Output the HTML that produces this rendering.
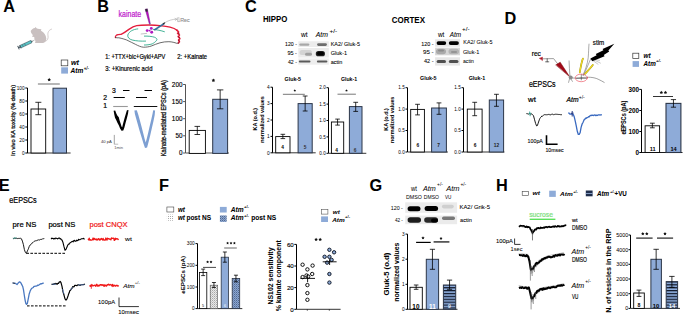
<!DOCTYPE html>
<html><head><meta charset="utf-8"><style>
html,body{margin:0;padding:0;background:#fff;}
svg{display:block;font-family:"Liberation Sans", sans-serif;}
</style></head><body>
<svg width="685" height="315" viewBox="0 0 685 315">
<rect width="685" height="315" fill="#fff"/>
<text x="3.30" y="12.20" font-size="16.3" stroke="#000" stroke-width="0.05" font-weight="bold" >A</text>
<path d="M30.7,31 C31.5,29.6 33.3,28.2 34.8,28 L35.5,27 L36.9,28.4 C38.3,28.7 39.8,28.9 41.6,29.2 C40.8,29.8 40.6,30.4 41.4,31 C44,32.4 46,35 46.3,38.5 C46.4,41.2 45,42.6 43,42.9 L35.6,42.9 C34.7,42.6 34.8,41.8 35.7,41.3 C34.6,40.1 34.1,38.6 34.3,37.1 L32.3,36.7 C31.9,36.1 32.4,35.5 33.2,35.3 C32,34.2 31,33.1 30.7,31 Z" fill="#c9c0c0"/>
<path d="M45.3,41.3 C47.4,40.6 48.5,38.6 48,35.6 C47.5,32.6 48.6,30 51.9,29" stroke="#c9c0c0" stroke-width="0.8" fill="none"/>
<g transform="translate(26.4 43.9) rotate(-25)">
<rect x="-6.6" y="-1.3" width="12" height="2.6" fill="#5cc6c8" stroke="#2c4650" stroke-width="0.5"/>
<line x1="-4" y1="-1.1" x2="-4" y2="1.1" stroke="#2c4650" stroke-width="0.4"/>
<line x1="-1.5" y1="-1.1" x2="-1.5" y2="1.1" stroke="#2c4650" stroke-width="0.4"/>
<rect x="-8.9" y="-0.6" width="2.3" height="1.2" fill="#3a4a55"/>
<rect x="-9.2" y="-1.9" width="0.9" height="3.8" fill="#3a4a55"/>
<rect x="-7" y="-1.8" width="0.7" height="3.6" fill="#3a4a55"/>
<rect x="5.4" y="-0.7" width="1.2" height="1.4" fill="#3a5a60"/>
<line x1="6.6" y1="0" x2="9" y2="0" stroke="#777" stroke-width="0.45"/>
</g>
<rect x="61.20" y="60.00" width="6.60" height="5.80" fill="#fff" stroke="#333" stroke-width="0.7" />
<text x="71.00" y="64.90" font-size="7.2" stroke="#000" stroke-width="0.05" font-weight="bold" font-style="italic" >wt</text>
<rect x="61.20" y="67.30" width="6.80" height="6.30" fill="#8eabd8" stroke="none" stroke-width="0.8" />
<text x="70.60" y="72.90" font-size="7.3" stroke="#000" stroke-width="0.05" font-weight="bold" font-style="italic" textLength="12.70" lengthAdjust="spacingAndGlyphs" >Atm</text>
<text x="83.80" y="69.60" font-size="4.6" font-weight="bold" font-style="italic" textLength="5.10" lengthAdjust="spacingAndGlyphs" >+/-</text>
<line x1="27.50" y1="88.00" x2="27.50" y2="153.00" stroke="#000" stroke-width="1.0" />
<line x1="25.30" y1="88.00" x2="27.50" y2="88.00" stroke="#000" stroke-width="1.0" />
<text x="24.50" y="89.69" font-size="4.7" text-anchor="end" >100</text>
<line x1="25.30" y1="101.00" x2="27.50" y2="101.00" stroke="#000" stroke-width="1.0" />
<text x="24.50" y="102.69" font-size="4.7" text-anchor="end" >80</text>
<line x1="25.30" y1="114.00" x2="27.50" y2="114.00" stroke="#000" stroke-width="1.0" />
<text x="24.50" y="115.69" font-size="4.7" text-anchor="end" >60</text>
<line x1="25.30" y1="127.00" x2="27.50" y2="127.00" stroke="#000" stroke-width="1.0" />
<text x="24.50" y="128.69" font-size="4.7" text-anchor="end" >40</text>
<line x1="25.30" y1="140.00" x2="27.50" y2="140.00" stroke="#000" stroke-width="1.0" />
<text x="24.50" y="141.69" font-size="4.7" text-anchor="end" >20</text>
<line x1="25.30" y1="153.00" x2="27.50" y2="153.00" stroke="#000" stroke-width="1.0" />
<text x="24.50" y="154.69" font-size="4.7" text-anchor="end" >0</text>
<line x1="27.40" y1="153.00" x2="70.60" y2="153.00" stroke="#000" stroke-width="0.8" />
<rect x="31.00" y="109.00" width="14.70" height="44.00" fill="#fff" stroke="#000" stroke-width="0.9" />
<line x1="38.35" y1="102.30" x2="38.35" y2="114.70" stroke="#000" stroke-width="0.8" />
<line x1="35.35" y1="102.30" x2="41.35" y2="102.30" stroke="#000" stroke-width="0.8" />
<line x1="35.35" y1="114.70" x2="41.35" y2="114.70" stroke="#000" stroke-width="0.8" />
<rect x="53.00" y="88.20" width="13.50" height="64.80" fill="#8eabd8" stroke="#2c3648" stroke-width="1.0" />
<line x1="37.90" y1="84.00" x2="59.80" y2="84.00" stroke="#999" stroke-width="1.4" />
<polygon points="49.20,77.85 49.80,78.88 50.96,79.13 50.17,80.01 50.29,81.20 49.20,80.72 48.11,81.20 48.23,80.01 47.44,79.13 48.60,78.88" fill="#111"/>
<text x="14.70" y="120.40" font-size="6.0" stroke="#111" stroke-width="0.28" fill="#111" text-anchor="middle" textLength="71.00" lengthAdjust="spacingAndGlyphs" transform="rotate(-90 14.70 120.40)" >In vivo KA toxicity (% death)</text>
<text x="97.30" y="12.30" font-size="16.3" stroke="#000" stroke-width="0.05" font-weight="bold" >B</text>
<text x="118.60" y="16.60" font-size="8.2" stroke="#c020cc" stroke-width="0.22" fill="#c020cc" textLength="22.50" lengthAdjust="spacingAndGlyphs" >kainate</text>
<g fill="none" stroke-linecap="round" stroke-linejoin="round">
<path d="M115.4,37.6 C115.2,36.6 115.6,35.6 116.7,35 C118,34.5 120,34.4 121.1,34.3 C124,33 126.8,31 128.9,29.4 C131.5,27.5 134,26.1 136.7,25.6 C140,25 145,25 148.9,25 C153,25 157,25.2 160,25.6 C164,26 167.5,26.5 170,27.2 C173,28 175.5,29 176.9,30.2" stroke="#e41e3c" stroke-width="1.35"/>
<path d="M176.9,30.2 L178.6,32 L177.6,33.2 L179.4,35 L178.2,36.5 L179.8,38.6 L178.6,40 L179.4,41.8 L178.4,43" stroke="#e41e3c" stroke-width="1.7"/>
<path d="M178.2,33 L179.2,33.6 M178.6,36.8 L179.6,37.4 M178.6,40.4 L179.5,41" stroke="#701020" stroke-width="0.8"/>
<path d="M115.6,37.6 C116.5,37.9 117.6,37.8 118.9,37.8 C122,38.4 124.5,39.2 126.7,40 C130,41.5 133,43.2 135.6,44.4 C138,45.7 141,47 143.3,47.2 C146,47.3 149,46.8 151.1,46.1 C154,45 157,43.6 160,42.8 C163,42 166,41.6 168.9,41.7 C172,41.8 174.5,42.5 176.7,43.3 L178.4,43" stroke="#3a3a3a" stroke-width="0.75"/>
<path d="M137.8,28.9 C133,29.3 129,31.5 127.8,35 C127.3,37.5 129.5,39.3 132.2,40 C136,41 141,41.3 145.6,41.1" stroke="#23a584" stroke-width="0.85"/>
<path d="M153.3,29.4 C157,29.8 161,30.5 164.4,31.7" stroke="#23a584" stroke-width="0.85"/>
<path d="M144.4,36.1 C148,36 152,36.4 154.4,37.2 C156.5,38 157.5,39.2 156.7,40.2 C155.5,42 153.5,43.2 152.2,43.9 C149.5,44.8 146.5,45 144.4,45" stroke="#23a584" stroke-width="0.85"/>
<path d="M141.1,34 L146.7,33.4" stroke="#888" stroke-width="0.5"/>
<path d="M164.4,23 C168,20.5 172,19.2 176.5,19.2 M175,18.4 L176.8,19.2 L175.4,20.4" stroke="#999" stroke-width="0.5"/>
<path d="M177.4,17.8 L177.6,21.6 L179.2,21.6 M178.8,17.4 L179.2,21.6" stroke="#888" stroke-width="0.45"/>
</g>
<path d="M145.2,9.2 L147.3,8.8 L150.3,23.6 L149.4,24.2 Z" fill="#c010c8" stroke="#601070" stroke-width="0.4"/><path d="M145.2,9.2 L147.3,8.8 L147.8,11.5 L145.8,11.8 Z" fill="#302838"/>
<path d="M149.3,23.6 L150.6,23.3 L150.3,24.5 Z" fill="#30a0a0"/>
<path d="M153.9,29.6 L163.6,23.2 L164.6,23.9 L154.8,30.4 Z" fill="#2b80c4" stroke="#203040" stroke-width="0.35"/>
<path d="M162.5,23.7 L164.9,22.3 L165.3,23 L163.2,24.5 Z" fill="#222"/>
<g fill="#b01cc0"><circle cx="147.2" cy="30.6" r="1.45"/><circle cx="151.3" cy="28.4" r="1.45"/><circle cx="151.7" cy="32.2" r="1.45"/><circle cx="149.6" cy="30.6" r="0.9"/></g>
<text x="180.20" y="21.60" font-size="5.8" stroke="#888" stroke-width="0.09" fill="#888" textLength="9.50" lengthAdjust="spacingAndGlyphs" >Rec</text>
<text x="105.20" y="59.00" font-size="6.8" stroke="#000" stroke-width="0.20" textLength="60.20" lengthAdjust="spacingAndGlyphs" >1: +TTX+bic+Gykl+APV</text>
<text x="177.30" y="59.00" font-size="6.8" stroke="#000" stroke-width="0.20" textLength="29.80" lengthAdjust="spacingAndGlyphs" >2: +Kainate</text>
<text x="105.20" y="71.30" font-size="6.8" stroke="#000" stroke-width="0.20" textLength="47.30" lengthAdjust="spacingAndGlyphs" >3: +Kinurenic acid</text>
<text x="114.00" y="92.50" font-size="6.8" stroke="#000" stroke-width="0.20" text-anchor="middle" >3</text>
<text x="105.20" y="99.70" font-size="6.8" stroke="#000" stroke-width="0.20" text-anchor="middle" >2</text>
<text x="105.20" y="108.20" font-size="6.8" stroke="#000" stroke-width="0.20" text-anchor="middle" >1</text>
<line x1="123.00" y1="90.50" x2="129.50" y2="90.50" stroke="#000" stroke-width="1.0" />
<line x1="144.50" y1="90.50" x2="152.00" y2="90.50" stroke="#000" stroke-width="1.0" />
<line x1="113.60" y1="97.50" x2="124.80" y2="97.50" stroke="#000" stroke-width="1.0" />
<line x1="136.00" y1="97.50" x2="147.00" y2="97.50" stroke="#000" stroke-width="1.0" />
<line x1="113.20" y1="106.50" x2="127.80" y2="106.50" stroke="#999" stroke-width="1.1" />
<line x1="133.80" y1="106.50" x2="157.30" y2="106.50" stroke="#111" stroke-width="1.0" />
<path d="M113.6,110.8 L115.2,110.5 L116.2,113.2 L117.3,115.6 L118.8,117.2 L119.6,120.4 L120.7,123.8 L121.5,126.4 L122.2,127.2 L122.9,124.2 L123.9,120.6 L124.8,117.2 L126,113.2 L126.9,110.2 L128.5,110 L128,113.8 L126.8,118.4 L125.6,122.8 L124.4,127.4 L123.3,130.5 L121.5,130.7 L120.1,128.6 L118.9,125.6 L117.3,122.6 L116.2,120 L115,117.8 L114.3,114.4 Z" stroke="none" stroke-width="0.8" fill="#000" />
<path d="M134.4,110.5 L136.8,110.3 L138.3,114.8 L139.9,120.4 L141.5,126.4 L143.1,132.8 L144.6,138.8 L145.7,142.4 L146.8,138.6 L148.3,132.2 L149.9,125.2 L151.5,118.4 L152.6,113.4 L153.2,110.3 L155.1,110.5 L154.7,115 L153.5,121 L151.9,128 L150.3,135 L148.7,141.6 L147.1,147.6 L145,147.9 L143.3,143 L141.5,137 L139.5,130.5 L137.7,124 L136,118 L134.9,114 Z" stroke="none" stroke-width="0.8" fill="#7d9fd2" />
<text x="101.00" y="142.70" font-size="3.8" fill="#333" textLength="10.90" lengthAdjust="spacingAndGlyphs" >40 pA</text>
<line x1="114.30" y1="134.90" x2="114.30" y2="144.30" stroke="#999" stroke-width="0.9" />
<line x1="114.30" y1="144.20" x2="118.20" y2="144.20" stroke="#aaa" stroke-width="0.8" />
<text x="114.20" y="148.50" font-size="3.8" fill="#555" textLength="8.80" lengthAdjust="spacingAndGlyphs" >1min</text>
<line x1="185.50" y1="84.50" x2="185.50" y2="153.00" stroke="#555" stroke-width="1.0" />
<line x1="183.10" y1="84.50" x2="185.50" y2="84.50" stroke="#555" stroke-width="1.0" />
<text x="182.50" y="86.80" font-size="6.4" stroke="#000" stroke-width="0.15" text-anchor="end" >200</text>
<line x1="183.10" y1="101.60" x2="185.50" y2="101.60" stroke="#555" stroke-width="1.0" />
<text x="182.50" y="103.90" font-size="6.4" stroke="#000" stroke-width="0.15" text-anchor="end" >150</text>
<line x1="183.10" y1="118.70" x2="185.50" y2="118.70" stroke="#555" stroke-width="1.0" />
<text x="182.50" y="121.00" font-size="6.4" stroke="#000" stroke-width="0.15" text-anchor="end" >100</text>
<line x1="183.10" y1="135.80" x2="185.50" y2="135.80" stroke="#555" stroke-width="1.0" />
<text x="182.50" y="138.10" font-size="6.4" stroke="#000" stroke-width="0.15" text-anchor="end" >50</text>
<line x1="183.10" y1="153.00" x2="185.50" y2="153.00" stroke="#555" stroke-width="1.0" />
<text x="182.50" y="155.30" font-size="6.4" stroke="#000" stroke-width="0.15" text-anchor="end" >0</text>
<line x1="185.70" y1="153.00" x2="229.00" y2="153.00" stroke="#555" stroke-width="1.0" />
<rect x="189.20" y="130.40" width="16.20" height="23.00" fill="#fff" stroke="#000" stroke-width="0.9" />
<line x1="197.30" y1="126.40" x2="197.30" y2="134.50" stroke="#000" stroke-width="0.8" />
<line x1="194.50" y1="126.40" x2="200.10" y2="126.40" stroke="#000" stroke-width="0.8" />
<line x1="194.50" y1="134.50" x2="200.10" y2="134.50" stroke="#000" stroke-width="0.8" />
<rect x="212.70" y="99.30" width="14.90" height="54.10" fill="#8eabd8" stroke="#2c3648" stroke-width="1.0" />
<line x1="220.15" y1="89.90" x2="220.15" y2="108.80" stroke="#000" stroke-width="0.8" />
<line x1="216.95" y1="89.90" x2="223.35" y2="89.90" stroke="#000" stroke-width="0.8" />
<line x1="216.95" y1="108.80" x2="223.35" y2="108.80" stroke="#000" stroke-width="0.8" />
<polygon points="213.40,78.55 214.00,79.58 215.16,79.83 214.37,80.71 214.49,81.90 213.40,81.42 212.31,81.90 212.43,80.71 211.64,79.83 212.80,79.58" fill="#111"/>
<text x="166.20" y="118.20" font-size="6.8" stroke="#111" stroke-width="0.30" fill="#111" text-anchor="middle" textLength="76.00" lengthAdjust="spacingAndGlyphs" transform="rotate(-90 166.20 118.20)" >Kainate-mediated EPSCs (pA)</text>
<text x="245.00" y="12.40" font-size="16.3" stroke="#000" stroke-width="0.05" font-weight="bold" >C</text>
<text x="262.90" y="22.40" font-size="8.3" stroke="#000" stroke-width="0.05" font-weight="bold" textLength="24.40" lengthAdjust="spacingAndGlyphs" >HIPPO</text>
<text x="391.80" y="22.80" font-size="8.7" stroke="#000" stroke-width="0.05" font-weight="bold" textLength="33.20" lengthAdjust="spacingAndGlyphs" >CORTEX</text>
<text x="304.20" y="36.66" font-size="6.6" stroke="#000" stroke-width="0.05" text-anchor="middle" >wt</text>
<text x="315.70" y="36.60" font-size="6.6" stroke="#000" stroke-width="0.05" font-style="italic" textLength="12.20" lengthAdjust="spacingAndGlyphs" >Atm</text>
<text x="329.60" y="32.60" font-size="5.6" stroke="#000" stroke-width="0.07" textLength="7.60" lengthAdjust="spacingAndGlyphs" >+/-</text>
<text x="296.90" y="46.00" font-size="5.6" stroke="#000" stroke-width="0.07" text-anchor="end" textLength="11.90" lengthAdjust="spacingAndGlyphs" >120 -</text>
<text x="296.90" y="54.90" font-size="5.6" stroke="#000" stroke-width="0.07" text-anchor="end" textLength="9.50" lengthAdjust="spacingAndGlyphs" >95 -</text>
<text x="296.90" y="64.40" font-size="5.6" stroke="#000" stroke-width="0.07" text-anchor="end" textLength="9.00" lengthAdjust="spacingAndGlyphs" >42 -</text>
<rect x="298.30" y="41.30" width="30.50" height="5.70" fill="#ececec" filter="url(#bl2)"/>
<rect x="299.30" y="43.40" width="10.00" height="2.40" rx="1.20" fill="#a8a8a8" filter="url(#bl)"/>
<rect x="317.10" y="43.30" width="9.80" height="2.60" rx="1.30" fill="#6e6e6e" filter="url(#bl)"/>
<rect x="298.30" y="48.00" width="30.50" height="9.50" fill="#ececec" filter="url(#bl2)"/>
<rect x="299.50" y="50.00" width="12.50" height="5.00" rx="2.50" fill="#d4d4d4" filter="url(#bl)"/>
<rect x="305.00" y="52.70" width="7.00" height="3.00" rx="1.50" fill="#a0a0a0" filter="url(#bl)"/>
<rect x="315.80" y="51.10" width="9.20" height="5.20" rx="2.60" fill="#222" filter="url(#bl)"/>
<rect x="317.00" y="51.80" width="7.00" height="3.40" rx="1.70" fill="#000" filter="url(#bl)"/>
<rect x="298.30" y="58.50" width="30.50" height="6.20" fill="#eeeeee" filter="url(#bl2)"/>
<rect x="298.80" y="60.50" width="11.70" height="2.00" rx="1.00" fill="#5a5a5a" filter="url(#bl)"/>
<rect x="316.90" y="60.50" width="10.50" height="2.00" rx="1.00" fill="#5a5a5a" filter="url(#bl)"/>
<text x="330.70" y="46.00" font-size="5.6" stroke="#000" stroke-width="0.07" textLength="29.30" lengthAdjust="spacingAndGlyphs" >KA2/ Gluk-5</text>
<text x="330.70" y="55.00" font-size="5.6" stroke="#000" stroke-width="0.07" textLength="16.40" lengthAdjust="spacingAndGlyphs" >Gluk-1</text>
<text x="330.70" y="64.40" font-size="5.6" stroke="#000" stroke-width="0.07" textLength="11.70" lengthAdjust="spacingAndGlyphs" >actin</text>
<text x="441.20" y="36.69" font-size="6.4" stroke="#000" stroke-width="0.05" text-anchor="middle" >wt</text>
<text x="449.80" y="36.60" font-size="6.6" stroke="#000" stroke-width="0.05" font-style="italic" textLength="11.40" lengthAdjust="spacingAndGlyphs" >Atm</text>
<text x="462.00" y="31.40" font-size="5.4" stroke="#000" stroke-width="0.04" textLength="7.60" lengthAdjust="spacingAndGlyphs" >+/-</text>
<text x="433.60" y="46.30" font-size="5.6" stroke="#000" stroke-width="0.07" text-anchor="end" textLength="12.40" lengthAdjust="spacingAndGlyphs" >120 -</text>
<text x="433.60" y="53.50" font-size="5.6" stroke="#000" stroke-width="0.07" text-anchor="end" textLength="10.60" lengthAdjust="spacingAndGlyphs" >95 -</text>
<text x="433.60" y="63.00" font-size="5.6" stroke="#000" stroke-width="0.07" text-anchor="end" textLength="9.60" lengthAdjust="spacingAndGlyphs" >42 -</text>
<rect x="435.10" y="39.30" width="24.90" height="7.40" fill="#e6e6e6" filter="url(#bl2)"/>
<rect x="436.60" y="41.20" width="9.60" height="3.80" rx="1.90" fill="#000" filter="url(#bl)"/>
<rect x="448.80" y="41.20" width="10.10" height="3.80" rx="1.90" fill="#000" filter="url(#bl)"/>
<rect x="435.10" y="47.70" width="24.90" height="7.60" fill="#d6d6d6" filter="url(#bl2)"/>
<rect x="436.00" y="48.75" width="10.00" height="5.50" rx="2.75" fill="#aaaaaa" filter="url(#bl)"/>
<rect x="448.50" y="48.75" width="10.50" height="5.50" rx="2.75" fill="#b4b4b4" filter="url(#bl)"/>
<rect x="438.00" y="49.50" width="6.00" height="2.00" rx="1.00" fill="#8c8c8c" filter="url(#bl)"/>
<rect x="451.00" y="51.00" width="6.00" height="2.00" rx="1.00" fill="#959595" filter="url(#bl)"/>
<rect x="435.10" y="57.30" width="24.90" height="8.30" fill="#e6e6e6" filter="url(#bl2)"/>
<rect x="436.60" y="59.90" width="9.40" height="3.00" rx="1.50" fill="#505050" filter="url(#bl)"/>
<rect x="448.80" y="59.90" width="9.70" height="3.00" rx="1.50" fill="#505050" filter="url(#bl)"/>
<text x="463.30" y="44.20" font-size="5.4" stroke="#000" stroke-width="0.04" textLength="29.20" lengthAdjust="spacingAndGlyphs" >KA2/ Gluk-5</text>
<text x="463.00" y="53.60" font-size="5.4" stroke="#000" stroke-width="0.04" textLength="16.50" lengthAdjust="spacingAndGlyphs" >Gluk-1</text>
<text x="463.00" y="62.80" font-size="5.4" stroke="#000" stroke-width="0.04" textLength="10.90" lengthAdjust="spacingAndGlyphs" >actin</text>
<text x="292.80" y="80.60" font-size="5.6" stroke="#000" stroke-width="0.01" font-weight="bold" text-anchor="middle" textLength="16.60" lengthAdjust="spacingAndGlyphs" >Gluk-5</text>
<line x1="272.50" y1="87.20" x2="272.50" y2="152.80" stroke="#000" stroke-width="1.0" />
<line x1="270.50" y1="87.20" x2="272.50" y2="87.20" stroke="#000" stroke-width="1.0" />
<text x="269.70" y="88.93" font-size="4.8" text-anchor="end" >4</text>
<line x1="270.50" y1="103.60" x2="272.50" y2="103.60" stroke="#000" stroke-width="1.0" />
<text x="269.70" y="105.33" font-size="4.8" text-anchor="end" >3</text>
<line x1="270.50" y1="120.00" x2="272.50" y2="120.00" stroke="#000" stroke-width="1.0" />
<text x="269.70" y="121.73" font-size="4.8" text-anchor="end" >2</text>
<line x1="270.50" y1="136.40" x2="272.50" y2="136.40" stroke="#000" stroke-width="1.0" />
<text x="269.70" y="138.13" font-size="4.8" text-anchor="end" >1</text>
<line x1="270.50" y1="152.80" x2="272.50" y2="152.80" stroke="#000" stroke-width="1.0" />
<text x="269.70" y="154.53" font-size="4.8" text-anchor="end" >0</text>
<line x1="272.20" y1="152.80" x2="315.70" y2="152.80" stroke="#000" stroke-width="0.8" />
<rect x="275.70" y="136.60" width="14.30" height="16.20" fill="#fff" stroke="#000" stroke-width="0.9" />
<line x1="282.85" y1="134.30" x2="282.85" y2="138.60" stroke="#000" stroke-width="0.8" />
<line x1="280.55" y1="134.30" x2="285.15" y2="134.30" stroke="#000" stroke-width="0.8" />
<line x1="280.55" y1="138.60" x2="285.15" y2="138.60" stroke="#000" stroke-width="0.8" />
<rect x="298.10" y="103.60" width="14.10" height="49.20" fill="#8eabd8" stroke="#2c3648" stroke-width="1.0" />
<line x1="305.15" y1="96.00" x2="305.15" y2="111.00" stroke="#000" stroke-width="0.8" />
<line x1="302.75" y1="96.00" x2="307.55" y2="96.00" stroke="#000" stroke-width="0.8" />
<line x1="302.75" y1="111.00" x2="307.55" y2="111.00" stroke="#000" stroke-width="0.8" />
<line x1="282.90" y1="94.30" x2="304.80" y2="94.30" stroke="#777" stroke-width="1.0" />
<polygon points="294.80,89.16 295.23,89.90 296.08,90.08 295.50,90.73 295.59,91.59 294.80,91.24 294.01,91.59 294.10,90.73 293.52,90.08 294.37,89.90" fill="#111"/>
<text x="282.60" y="149.32" font-size="4.8" font-weight="bold" text-anchor="middle" >4</text>
<text x="305.00" y="149.32" font-size="4.8" font-weight="bold" fill="#333" text-anchor="middle" >5</text>
<text x="256.90" y="119.20" font-size="5.4" stroke="#000" stroke-width="0.01" font-weight="bold" text-anchor="middle" textLength="22.70" lengthAdjust="spacingAndGlyphs" transform="rotate(-90 256.90 119.20)" >KA (o.d.)</text>
<text x="263.50" y="119.50" font-size="5.4" stroke="#000" stroke-width="0.01" font-weight="bold" text-anchor="middle" textLength="46.30" lengthAdjust="spacingAndGlyphs" transform="rotate(-90 263.50 119.50)" >normalized values</text>
<text x="349.00" y="81.10" font-size="5.6" stroke="#000" stroke-width="0.01" font-weight="bold" text-anchor="middle" textLength="16.20" lengthAdjust="spacingAndGlyphs" >Gluk-1</text>
<line x1="328.50" y1="87.70" x2="328.50" y2="153.30" stroke="#000" stroke-width="1.0" />
<line x1="326.50" y1="87.70" x2="328.50" y2="87.70" stroke="#000" stroke-width="1.0" />
<text x="325.70" y="89.36" font-size="4.6" text-anchor="end" >2.0</text>
<line x1="326.50" y1="104.10" x2="328.50" y2="104.10" stroke="#000" stroke-width="1.0" />
<text x="325.70" y="105.76" font-size="4.6" text-anchor="end" >1.5</text>
<line x1="326.50" y1="120.50" x2="328.50" y2="120.50" stroke="#000" stroke-width="1.0" />
<text x="325.70" y="122.16" font-size="4.6" text-anchor="end" >1.0</text>
<line x1="326.50" y1="136.90" x2="328.50" y2="136.90" stroke="#000" stroke-width="1.0" />
<text x="325.70" y="138.56" font-size="4.6" text-anchor="end" >0.5</text>
<line x1="326.50" y1="153.30" x2="328.50" y2="153.30" stroke="#000" stroke-width="1.0" />
<text x="325.70" y="154.96" font-size="4.6" text-anchor="end" >0.0</text>
<line x1="328.60" y1="153.30" x2="366.30" y2="153.30" stroke="#000" stroke-width="0.8" />
<rect x="331.40" y="122.00" width="12.30" height="31.30" fill="#fff" stroke="#000" stroke-width="0.9" />
<line x1="337.55" y1="119.10" x2="337.55" y2="125.10" stroke="#000" stroke-width="0.8" />
<line x1="335.25" y1="119.10" x2="339.85" y2="119.10" stroke="#000" stroke-width="0.8" />
<line x1="335.25" y1="125.10" x2="339.85" y2="125.10" stroke="#000" stroke-width="0.8" />
<rect x="349.40" y="106.60" width="12.60" height="46.70" fill="#8eabd8" stroke="#2c3648" stroke-width="1.0" />
<line x1="355.70" y1="102.30" x2="355.70" y2="111.40" stroke="#000" stroke-width="0.8" />
<line x1="353.30" y1="102.30" x2="358.10" y2="102.30" stroke="#000" stroke-width="0.8" />
<line x1="353.30" y1="111.40" x2="358.10" y2="111.40" stroke="#000" stroke-width="0.8" />
<line x1="337.50" y1="94.20" x2="355.90" y2="94.20" stroke="#777" stroke-width="1.0" />
<polygon points="346.50,89.16 346.93,89.90 347.78,90.08 347.20,90.73 347.29,91.59 346.50,91.24 345.71,91.59 345.80,90.73 345.22,90.08 346.07,89.90" fill="#111"/>
<text x="336.60" y="151.72" font-size="4.8" font-weight="bold" text-anchor="middle" >4</text>
<text x="355.10" y="151.72" font-size="4.8" font-weight="bold" fill="#333" text-anchor="middle" >6</text>
<text x="428.30" y="80.30" font-size="5.6" stroke="#000" stroke-width="0.01" font-weight="bold" text-anchor="middle" textLength="16.60" lengthAdjust="spacingAndGlyphs" >Gluk-5</text>
<line x1="407.50" y1="87.70" x2="407.50" y2="152.00" stroke="#000" stroke-width="1.0" />
<line x1="405.50" y1="87.70" x2="407.50" y2="87.70" stroke="#000" stroke-width="1.0" />
<text x="404.70" y="89.36" font-size="4.6" text-anchor="end" >1.5</text>
<line x1="405.50" y1="109.10" x2="407.50" y2="109.10" stroke="#000" stroke-width="1.0" />
<text x="404.70" y="110.76" font-size="4.6" text-anchor="end" >1.0</text>
<line x1="405.50" y1="130.50" x2="407.50" y2="130.50" stroke="#000" stroke-width="1.0" />
<text x="404.70" y="132.16" font-size="4.6" text-anchor="end" >0.5</text>
<line x1="405.50" y1="152.00" x2="407.50" y2="152.00" stroke="#000" stroke-width="1.0" />
<text x="404.70" y="153.66" font-size="4.6" text-anchor="end" >0.0</text>
<line x1="407.90" y1="152.00" x2="447.90" y2="152.00" stroke="#000" stroke-width="0.8" />
<rect x="410.70" y="109.40" width="13.70" height="42.60" fill="#fff" stroke="#000" stroke-width="0.9" />
<line x1="417.55" y1="104.30" x2="417.55" y2="114.90" stroke="#000" stroke-width="0.8" />
<line x1="415.15" y1="104.30" x2="419.95" y2="104.30" stroke="#000" stroke-width="0.8" />
<line x1="415.15" y1="114.90" x2="419.95" y2="114.90" stroke="#000" stroke-width="0.8" />
<rect x="431.60" y="108.00" width="14.80" height="44.00" fill="#8eabd8" stroke="#2c3648" stroke-width="1.0" />
<line x1="439.00" y1="102.90" x2="439.00" y2="114.30" stroke="#000" stroke-width="0.8" />
<line x1="436.60" y1="102.90" x2="441.40" y2="102.90" stroke="#000" stroke-width="0.8" />
<line x1="436.60" y1="114.30" x2="441.40" y2="114.30" stroke="#000" stroke-width="0.8" />
<text x="417.90" y="147.42" font-size="4.8" font-weight="bold" text-anchor="middle" >6</text>
<text x="438.70" y="147.42" font-size="4.8" font-weight="bold" fill="#222" text-anchor="middle" >7</text>
<text x="387.70" y="119.40" font-size="5.4" stroke="#000" stroke-width="0.01" font-weight="bold" text-anchor="middle" textLength="22.70" lengthAdjust="spacingAndGlyphs" transform="rotate(-90 387.70 119.40)" >KA (o.d.)</text>
<text x="394.40" y="119.80" font-size="5.4" stroke="#000" stroke-width="0.01" font-weight="bold" text-anchor="middle" textLength="46.30" lengthAdjust="spacingAndGlyphs" transform="rotate(-90 394.40 119.80)" >normalized values</text>
<text x="477.00" y="80.30" font-size="5.6" stroke="#000" stroke-width="0.01" font-weight="bold" text-anchor="middle" textLength="16.60" lengthAdjust="spacingAndGlyphs" >Gluk-1</text>
<line x1="463.50" y1="87.70" x2="463.50" y2="152.00" stroke="#000" stroke-width="1.0" />
<line x1="461.50" y1="87.70" x2="463.50" y2="87.70" stroke="#000" stroke-width="1.0" />
<text x="460.70" y="89.36" font-size="4.6" text-anchor="end" >1.5</text>
<line x1="461.50" y1="109.10" x2="463.50" y2="109.10" stroke="#000" stroke-width="1.0" />
<text x="460.70" y="110.76" font-size="4.6" text-anchor="end" >1.0</text>
<line x1="461.50" y1="130.50" x2="463.50" y2="130.50" stroke="#000" stroke-width="1.0" />
<text x="460.70" y="132.16" font-size="4.6" text-anchor="end" >0.5</text>
<line x1="461.50" y1="152.00" x2="463.50" y2="152.00" stroke="#000" stroke-width="1.0" />
<text x="460.70" y="153.66" font-size="4.6" text-anchor="end" >0.0</text>
<line x1="463.60" y1="152.00" x2="504.40" y2="152.00" stroke="#000" stroke-width="0.8" />
<rect x="467.30" y="109.10" width="14.80" height="42.90" fill="#fff" stroke="#000" stroke-width="0.9" />
<line x1="474.70" y1="102.30" x2="474.70" y2="115.70" stroke="#000" stroke-width="0.8" />
<line x1="472.30" y1="102.30" x2="477.10" y2="102.30" stroke="#000" stroke-width="0.8" />
<line x1="472.30" y1="115.70" x2="477.10" y2="115.70" stroke="#000" stroke-width="0.8" />
<rect x="489.30" y="100.00" width="14.30" height="52.00" fill="#8eabd8" stroke="#2c3648" stroke-width="1.0" />
<line x1="496.45" y1="94.30" x2="496.45" y2="106.30" stroke="#000" stroke-width="0.8" />
<line x1="494.05" y1="94.30" x2="498.85" y2="94.30" stroke="#000" stroke-width="0.8" />
<line x1="494.05" y1="106.30" x2="498.85" y2="106.30" stroke="#000" stroke-width="0.8" />
<text x="475.00" y="147.42" font-size="4.8" font-weight="bold" text-anchor="middle" >6</text>
<text x="496.40" y="147.42" font-size="4.8" font-weight="bold" fill="#222" text-anchor="middle" >12</text>
<text x="504.60" y="23.90" font-size="16.3" stroke="#000" stroke-width="0.05" font-weight="bold" >D</text>
<text x="531.70" y="56.20" font-size="6.6" stroke="#000" stroke-width="0.18" textLength="9.20" lengthAdjust="spacingAndGlyphs" >rec</text>
<text x="592.80" y="44.90" font-size="6.4" stroke="#000" stroke-width="0.15" textLength="11.40" lengthAdjust="spacingAndGlyphs" >stim</text>
<g fill="none" stroke-linecap="round">
<path d="M539.6,58.2 L542.5,57.2 L542.5,60.2 Z" fill="#b01020" stroke="#b01020" stroke-width="0.5"/>
<path d="M542.5,58.8 L553.6,58.6 L557.5,63.6" stroke="#777" stroke-width="0.7"/>
<path d="M547.2,58.8 L547.2,61.8 M545.6,61.8 L548.8,61.8" stroke="#333" stroke-width="0.7"/>
<path d="M556,64.8 L560.2,62.2 L569.5,76.5 Z" fill="#a00818" stroke="#700" stroke-width="0.5"/>
<path d="M569.9,76.1 C569.2,71 569.6,66 569.1,60.9" stroke="#555" stroke-width="0.5"/>
<path d="M572.5,78 C575,78.4 578,77.8 581.3,77.6 C585,77.3 588,77.2 590.5,77.3 C594,77.6 596.5,78.4 598.1,79.2 C600.5,80.3 602.5,81.4 604.2,82.4" stroke="#444" stroke-width="0.5"/>
<path d="M582.9,75.3 C585,71 587.5,64 588.2,57.8 C588.7,52 588.6,48 589,44.1" stroke="#555" stroke-width="0.5"/>
<path d="M583.5,75.5 C586,70 588.5,64 590.5,59.3" stroke="#555" stroke-width="0.5"/>
<path d="M569.5,79 L568.6,82.4 M571,79 L572.4,81.4" stroke="#555" stroke-width="0.5"/>
<path d="M592.8,59.3 L600.4,63.1 M592.4,60.2 L598,64.2 M593,58.6 L599.5,60.6" stroke="#777" stroke-width="0.4"/>
<path d="M579.8,72.3 C580.5,68 581.5,62 582.9,58.6" stroke="#9a8a18" stroke-width="1.7"/>
<path d="M579.8,72.3 C580.5,68 581.5,62 582.9,58.6" stroke="#f0dc20" stroke-width="1.2"/>
<path d="M585.1,73.8 C587.5,71 590.5,68 592.8,64.9" stroke="#9a8a18" stroke-width="1.7"/>
<path d="M585.1,73.8 C587.5,71 590.5,68 592.8,64.9" stroke="#f0dc20" stroke-width="1.2"/>
<ellipse cx="581.3" cy="77.9" rx="6.1" ry="3.8" stroke="#e83040" stroke-width="0.55"/>
<path d="M581.3,74.6 L581.3,79.9 M576.5,78.4 L586.4,78.4" stroke="#222" stroke-width="0.5"/>
</g>
<circle cx="570.7" cy="77.6" r="2.0" fill="#8a8a8a"/>
<path d="M590.4,58.4 L596.6,55.2 L595.8,54.0 L603.4,50.2 L602.6,48.9 L614.3,43.8 L608.4,50.4 L609.2,51.4 L603.8,55.0 L604.6,56.2 L592.2,61.2 Z" fill="#000"/>
<rect x="632.80" y="53.20" width="6.00" height="5.40" fill="#fff" stroke="#333" stroke-width="0.7" />
<text x="643.60" y="58.00" font-size="7" stroke="#000" stroke-width="0.05" font-weight="bold" font-style="italic" textLength="7.00" lengthAdjust="spacingAndGlyphs" >wt</text>
<rect x="632.60" y="61.10" width="6.40" height="5.80" fill="#8eabd8" stroke="none" stroke-width="0.8" />
<text x="643.60" y="65.70" font-size="7" stroke="#000" stroke-width="0.05" font-weight="bold" font-style="italic" textLength="12.20" lengthAdjust="spacingAndGlyphs" >Atm</text>
<text x="656.00" y="62.20" font-size="4.4" font-weight="bold" font-style="italic" textLength="5.00" lengthAdjust="spacingAndGlyphs" >+/-</text>
<text x="528.90" y="86.80" font-size="9.6" stroke="#000" stroke-width="0.22" textLength="26.70" lengthAdjust="spacingAndGlyphs" >eEPSCs</text>
<text x="528.10" y="101.80" font-size="7.4" stroke="#000" stroke-width="0.22" textLength="7.70" lengthAdjust="spacingAndGlyphs" >wt</text>
<text x="566.50" y="101.80" font-size="7.4" stroke="#000" stroke-width="0.22" font-style="italic" textLength="12.00" lengthAdjust="spacingAndGlyphs" >Atm</text>
<text x="578.80" y="99.00" font-size="4.8" textLength="6.00" lengthAdjust="spacingAndGlyphs" >+/-</text>
<path d="M526.40,113.56 L527.01,113.88 L527.62,113.76 L528.23,114.01 L528.84,114.07 L529.45,113.61 L530.06,113.60 L530.67,114.38 L531.28,113.90 L531.89,113.92 L532.50,114.65 L533.50,115.77 L534.60,119.80 L535.60,123.48 L536.60,125.93 L537.40,125.59 L538.20,123.12 L539.30,119.83 L539.90,118.42 L540.50,117.52 L541.17,116.98 L541.85,115.96 L542.53,116.11 L543.20,115.48 L543.80,115.04 L544.40,114.62 L545.00,115.19 L545.60,114.66 L546.20,114.70 L546.81,114.83 L547.42,114.68 L548.02,114.86 L548.63,114.37 L549.24,114.73 L549.85,114.40 L550.45,114.84 L551.06,114.78 L551.67,114.07 L552.28,114.10 L552.88,114.16 L553.49,114.83 L554.10,114.34 L554.71,114.51 L555.32,114.21 L555.92,114.38 L556.53,114.27 L557.14,114.23 L557.75,114.43 L558.35,114.42 L558.96,114.70 L559.57,114.49 L560.18,114.71 L560.78,114.64 L561.39,114.75 L562.00,114.30" stroke="#000" stroke-width="0.9" fill="none" stroke-linejoin="round"/>
<path d="M529.6,111.6 L530.2,116.2 M528.8,113.7 L531.2,113.2" stroke="#2a9a8a" stroke-width="0.9" fill="none" />
<path d="M568.30,113.35 L568.92,113.03 L569.55,113.80 L570.17,114.03 L570.80,114.11 L571.42,113.95 L572.05,114.22 L572.67,113.90 L573.30,114.60 L574.30,117.07 L575.30,121.31 L576.30,126.11 L577.30,131.32 L578.30,134.44 L579.20,134.43 L580.10,132.77 L581.00,127.92 L581.60,125.69 L582.20,123.81 L582.85,122.74 L583.50,121.34 L584.25,119.59 L585.00,119.10 L585.60,118.15 L586.20,118.32 L586.80,117.53 L587.40,117.58 L588.00,117.23 L588.60,116.56 L589.20,116.77 L589.80,115.91 L590.40,115.46 L591.00,115.69 L591.64,115.14 L592.29,115.24 L592.93,115.39 L593.57,115.53 L594.21,115.08 L594.86,114.93 L595.50,115.63 L596.14,115.07 L596.78,115.59 L597.42,115.48 L598.06,114.95 L598.70,114.96 L599.34,114.96 L599.98,115.01 L600.62,114.91 L601.26,114.81 L601.90,114.70" stroke="#3a6ac0" stroke-width="1.3" fill="none" stroke-linejoin="round"/>
<path d="M572.2,111 L572.2,116.5 M570.8,113.3 L573.6,113.1" stroke="#2a3a80" stroke-width="1.0" fill="none" />
<text x="527.60" y="142.50" font-size="5.8" stroke="#000" stroke-width="0.09" textLength="15.30" lengthAdjust="spacingAndGlyphs" >100pA</text>
<path d="M546.5,135.3 L546.5,144.2 L557.6,144.2" stroke="#000" stroke-width="1.6" fill="none" />
<text x="545.40" y="151.80" font-size="5.8" stroke="#000" stroke-width="0.09" textLength="18.30" lengthAdjust="spacingAndGlyphs" >10msec</text>
<line x1="641.50" y1="89.40" x2="641.50" y2="152.50" stroke="#000" stroke-width="1.0" />
<line x1="639.30" y1="89.40" x2="641.50" y2="89.40" stroke="#000" stroke-width="1.0" />
<text x="638.90" y="91.67" font-size="6.3" stroke="#000" stroke-width="0.03" font-weight="bold" text-anchor="end" >300</text>
<line x1="639.30" y1="110.50" x2="641.50" y2="110.50" stroke="#000" stroke-width="1.0" />
<text x="638.90" y="112.77" font-size="6.3" stroke="#000" stroke-width="0.03" font-weight="bold" text-anchor="end" >200</text>
<line x1="639.30" y1="131.50" x2="641.50" y2="131.50" stroke="#000" stroke-width="1.0" />
<text x="638.90" y="133.77" font-size="6.3" stroke="#000" stroke-width="0.03" font-weight="bold" text-anchor="end" >100</text>
<line x1="639.30" y1="152.50" x2="641.50" y2="152.50" stroke="#000" stroke-width="1.0" />
<text x="638.90" y="154.77" font-size="6.3" stroke="#000" stroke-width="0.03" font-weight="bold" text-anchor="end" >0</text>
<line x1="641.00" y1="152.50" x2="682.50" y2="152.50" stroke="#000" stroke-width="0.9" />
<rect x="645.10" y="125.80" width="14.50" height="26.70" fill="#fff" stroke="#000" stroke-width="0.9" />
<line x1="652.35" y1="123.20" x2="652.35" y2="127.80" stroke="#000" stroke-width="0.8" />
<line x1="649.95" y1="123.20" x2="654.75" y2="123.20" stroke="#000" stroke-width="0.8" />
<line x1="649.95" y1="127.80" x2="654.75" y2="127.80" stroke="#000" stroke-width="0.8" />
<rect x="666.00" y="103.40" width="14.90" height="49.10" fill="#8eabd8" stroke="#2c3648" stroke-width="1.1" />
<line x1="673.45" y1="99.60" x2="673.45" y2="107.20" stroke="#000" stroke-width="0.8" />
<line x1="670.85" y1="99.60" x2="676.05" y2="99.60" stroke="#000" stroke-width="0.8" />
<line x1="670.85" y1="107.20" x2="676.05" y2="107.20" stroke="#000" stroke-width="0.8" />
<line x1="653.00" y1="96.50" x2="673.00" y2="96.50" stroke="#333" stroke-width="1.0" />
<polygon points="661.35,90.81 661.93,91.80 663.05,92.05 662.29,92.90 662.40,94.05 661.35,93.59 660.30,94.05 660.41,92.90 659.65,92.05 660.77,91.80" fill="#111"/>
<polygon points="665.45,90.81 666.03,91.80 667.15,92.05 666.39,92.90 666.50,94.05 665.45,93.59 664.40,94.05 664.51,92.90 663.75,92.05 664.87,91.80" fill="#111"/>
<text x="652.60" y="150.70" font-size="5.6" stroke="#000" stroke-width="0.01" font-weight="bold" text-anchor="middle" >11</text>
<text x="673.60" y="150.70" font-size="5.6" stroke="#000" stroke-width="0.01" font-weight="bold" text-anchor="middle" >14</text>
<text x="625.60" y="117.60" font-size="6.5" stroke="#000" stroke-width="0.04" font-weight="bold" text-anchor="middle" textLength="34.00" lengthAdjust="spacingAndGlyphs" transform="rotate(-90 625.60 117.60)" >eEPSCs (pA)</text>
<text x="-1.30" y="191.10" font-size="16.3" stroke="#000" stroke-width="0.05" font-weight="bold" >E</text>
<text x="9.30" y="203.30" font-size="8.4" stroke="#000" stroke-width="0.22" textLength="27.40" lengthAdjust="spacingAndGlyphs" >eEPSCs</text>
<text x="12.60" y="227.20" font-size="7.6" stroke="#000" stroke-width="0.22" textLength="23.80" lengthAdjust="spacingAndGlyphs" >pre NS</text>
<text x="48.40" y="227.20" font-size="7.6" stroke="#000" stroke-width="0.22" textLength="27.00" lengthAdjust="spacingAndGlyphs" >post NS</text>
<text x="89.50" y="227.20" font-size="7.6" stroke="#f01818" stroke-width="0.22" fill="#f01818" textLength="38.00" lengthAdjust="spacingAndGlyphs" >post CNQX</text>
<text x="125.00" y="241.40" font-size="5.6" stroke="#000" stroke-width="0.07" textLength="6.90" lengthAdjust="spacingAndGlyphs" >wt</text>
<text x="123.30" y="287.60" font-size="5.6" stroke="#000" stroke-width="0.07" font-style="italic" textLength="11.40" lengthAdjust="spacingAndGlyphs" >Atm</text>
<text x="134.80" y="284.00" font-size="4.2" textLength="5.20" lengthAdjust="spacingAndGlyphs" >+/-</text>
<path d="M12.90,238.31 L13.51,238.63 L14.11,238.26 L14.72,238.22 L15.33,238.51 L15.94,238.11 L16.54,238.19 L17.15,238.83 L17.76,238.45 L18.36,238.50 L18.97,238.05 L19.58,238.44 L20.19,238.61 L20.79,238.14 L21.40,238.70 L22.40,241.12 L23.40,244.60 L24.40,249.61 L25.40,252.47 L26.40,253.46 L27.40,250.87 L28.00,249.69 L28.60,248.21 L29.30,246.32 L30.00,245.10 L30.75,244.66 L31.50,243.92 L32.10,242.84 L32.70,242.58 L33.30,242.26 L33.90,241.58 L34.50,241.18 L35.10,240.93 L35.70,240.78 L36.30,240.79 L36.90,240.32 L37.50,240.19 L38.10,240.41 L38.70,239.59 L39.30,239.94 L39.90,239.95 L40.50,239.43 L41.13,239.18 L41.77,239.54 L42.40,238.86 L43.03,238.65 L43.67,238.71 L44.30,238.60" stroke="#000" stroke-width="0.9" fill="none" stroke-linejoin="round"/>
<path d="M13.2,238.3 L16.5,237.8" stroke="#2a9a8a" stroke-width="0.8" fill="none" />
<path d="M51.10,239.08 L51.75,238.18 L52.40,238.42 L53.05,238.37 L53.70,239.00 L54.35,238.38 L55.00,238.90 L55.67,237.94 L56.33,238.17 L57.00,238.61 L57.67,238.94 L58.33,238.33 L59.00,238.02 L59.60,238.11 L60.20,238.92 L60.80,238.69 L61.40,239.79 L62.00,240.07 L63.00,242.56 L64.00,246.69 L65.00,250.23 L66.00,249.40 L67.00,246.93 L67.60,245.56 L68.20,244.53 L68.80,244.03 L69.40,244.01 L70.05,242.78 L70.70,242.38 L71.35,241.98 L72.00,241.49 L72.60,241.30 L73.20,241.85 L73.80,240.60 L74.40,240.22 L75.00,241.36 L75.60,241.10 L76.20,241.08 L76.80,240.12 L77.40,240.66 L78.00,240.44 L78.60,239.27 L79.20,239.82 L79.80,239.76 L80.40,239.33 L81.01,239.10 L81.63,238.75 L82.24,238.79 L82.86,238.60 L83.47,238.35 L84.09,239.05 L84.70,238.90" stroke="#000" stroke-width="1.1" fill="none" stroke-linejoin="round"/>
<path d="M88.10,238.69 L88.66,239.94 L89.21,238.11 L89.77,240.17 L90.33,239.66 L90.88,240.22 L91.44,240.15 L91.99,240.16 L92.55,239.38 L93.11,238.03 L93.66,239.79 L94.22,238.41 L94.78,238.72 L95.33,239.59 L95.89,239.26 L96.45,238.99 L97.00,240.25 L97.56,239.47 L98.11,238.82 L98.67,238.61 L99.23,240.07 L99.78,239.15 L100.34,239.88 L100.90,238.84 L101.45,238.47 L102.01,239.28 L102.57,239.96 L103.12,238.41 L103.68,239.90 L104.23,240.21 L104.79,239.93 L105.35,239.98 L105.90,238.02 L106.46,239.51 L107.02,240.07 L107.57,238.12 L108.13,238.65 L108.69,238.64 L109.24,239.27 L109.80,239.02 L110.35,239.13 L110.91,239.86 L111.47,238.00 L112.02,238.13 L112.58,238.30 L113.14,238.30 L113.69,238.16 L114.25,240.34 L114.81,240.05 L115.36,238.21 L115.92,239.21 L116.47,238.76 L117.03,238.75 L117.59,238.84 L118.14,239.55 L118.70,239.20" stroke="#f01818" stroke-width="1.3" fill="none" stroke-linejoin="round"/>
<path d="M26.4,253.3 L65,253.3" stroke="#000" stroke-width="1.0" fill="none" stroke-dasharray="2.6 1.4"/>
<path d="M12.60,283.07 L13.32,283.04 L14.05,283.05 L14.78,283.31 L15.50,283.30 L16.25,283.99 L17.00,284.47 L17.75,283.55 L18.50,282.66 L19.50,281.84 L20.50,282.30 L21.50,284.08 L22.70,286.43 L23.50,289.90 L24.30,295.24 L25.10,300.10 L25.80,303.45 L26.50,304.40 L27.30,303.50 L28.20,299.16 L29.20,293.94 L30.30,290.66 L31.40,288.77 L32.05,288.07 L32.70,287.78 L33.35,287.38 L34.00,286.36 L34.70,286.36 L35.40,286.09 L36.10,286.18 L36.80,285.95 L37.50,285.22 L38.20,285.37 L38.90,285.01 L39.60,284.31 L40.27,284.17 L40.93,283.60 L41.60,283.85 L42.27,283.43 L42.93,283.31 L43.60,282.70" stroke="#4a78c0" stroke-width="1.3" fill="none" stroke-linejoin="round"/>
<path d="M12.6,282.9 L15,283.4" stroke="#333" stroke-width="0.9" fill="none" />
<path d="M51.50,284.45 L52.20,284.30 L52.90,284.38 L53.60,284.18 L54.30,283.62 L55.00,284.21 L55.70,283.45 L56.40,283.55 L57.10,284.25 L57.80,283.31 L58.50,283.31 L59.40,281.92 L60.30,281.46 L61.00,282.61 L62.00,286.43 L63.00,291.91 L64.00,295.05 L65.00,298.91 L66.00,300.01 L67.00,298.90 L68.00,296.04 L68.60,294.09 L69.20,292.86 L69.80,290.69 L70.40,290.32 L71.20,289.01 L72.00,288.26 L72.80,286.53 L73.45,286.92 L74.10,286.77 L74.75,285.35 L75.40,285.29 L76.10,285.51 L76.80,285.76 L77.50,284.99 L78.20,284.85 L78.90,284.87 L79.60,285.24 L80.26,285.34 L80.92,284.85 L81.59,284.75 L82.25,284.73 L82.91,284.61 L83.58,284.63 L84.24,284.16 L84.90,284.60" stroke="#000" stroke-width="1.2" fill="none" stroke-linejoin="round"/>
<path d="M52,284.2 L56,284.2 M62.5,289 L64,294 M70,290 L73,287.3 M78,285 L84.5,284.7" stroke="#5a84c8" stroke-width="0.7" fill="none" />
<path d="M89.70,285.30 L90.26,286.44 L90.81,285.09 L91.37,285.89 L91.92,284.49 L92.48,285.76 L93.03,285.91 L93.59,285.72 L94.15,285.34 L94.70,285.26 L95.26,285.64 L95.81,286.25 L96.37,284.46 L96.92,284.33 L97.48,285.90 L98.04,286.30 L98.59,285.34 L99.15,285.16 L99.70,285.83 L100.26,284.55 L100.82,284.74 L101.37,284.58 L101.93,285.51 L102.48,284.86 L103.04,284.66 L103.59,285.76 L104.15,286.39 L104.71,284.81 L105.26,285.79 L105.82,285.09 L106.37,286.15 L106.93,285.50 L107.48,284.74 L108.04,284.62 L108.60,284.16 L109.15,285.25 L109.71,285.02 L110.26,284.51 L110.82,284.97 L111.38,284.87 L111.93,285.96 L112.49,284.44 L113.04,286.48 L113.60,285.25 L114.15,285.54 L114.71,285.22 L115.27,286.10 L115.82,286.07 L116.38,285.44 L116.93,285.26 L117.49,285.83 L118.04,286.16 L118.60,285.30" stroke="#f01818" stroke-width="1.3" fill="none" stroke-linejoin="round"/>
<path d="M91.3,285 L91.3,288.8" stroke="#e8202a" stroke-width="0.9" fill="none" />
<path d="M27,305.9 L66.3,305.9" stroke="#000" stroke-width="1.0" fill="none" stroke-dasharray="2.6 1.4"/>
<text x="98.10" y="304.20" font-size="5.6" stroke="#000" stroke-width="0.07" textLength="17.00" lengthAdjust="spacingAndGlyphs" >100pA</text>
<path d="M119,297.5 L119,306.6 L138.9,306.6" stroke="#000" stroke-width="0.8" fill="none" />
<text x="118.30" y="314.30" font-size="5.6" stroke="#000" stroke-width="0.07" textLength="20.60" lengthAdjust="spacingAndGlyphs" >10msec</text>
<text x="158.90" y="190.70" font-size="16.3" stroke="#000" stroke-width="0.05" font-weight="bold" >F</text>
<defs>
<filter id="bl2" x="-10%" y="-30%" width="120%" height="160%"><feGaussianBlur stdDeviation="0.5"/></filter>
<filter id="bl" x="-20%" y="-50%" width="140%" height="200%"><feGaussianBlur stdDeviation="0.75"/></filter>
<pattern id="dotg" width="2" height="2" patternUnits="userSpaceOnUse"><rect width="2" height="2" fill="#e8e8e8"/><rect width="1" height="1" fill="#a8a8a8"/><rect x="1" y="1" width="1" height="1" fill="#c8c8c8"/></pattern>
<pattern id="dotb" width="2" height="2" patternUnits="userSpaceOnUse"><rect width="2" height="2" fill="#8aa5d0"/><rect width="1" height="1" fill="#52698f"/><rect x="1" y="1" width="1" height="1" fill="#6d86b0"/></pattern>
<pattern id="dotw" width="2" height="2" patternUnits="userSpaceOnUse"><rect width="2" height="2" fill="#fff"/><rect width="1" height="1" fill="#aaa"/></pattern>
<pattern id="hstripe" width="4" height="2.9" patternUnits="userSpaceOnUse"><rect width="4" height="2.9" fill="#90b0e0"/><rect width="4" height="1.3" fill="#121a2c"/></pattern>
</defs>
<rect x="166.90" y="207.00" width="6.90" height="5.00" fill="#fff" stroke="#444" stroke-width="0.6" />
<text x="177.90" y="212.00" font-size="6.4" stroke="#000" stroke-width="0.04" font-weight="bold" font-style="italic" textLength="7.00" lengthAdjust="spacingAndGlyphs" >wt</text>
<rect x="166.90" y="214.60" width="6.90" height="6.10" fill="url(#dotw)" stroke="none" stroke-width="0.8" />
<text x="177.90" y="219.70" font-size="6.4" stroke="#000" stroke-width="0.04" font-weight="bold" font-style="italic" textLength="7.00" lengthAdjust="spacingAndGlyphs" >wt</text>
<text x="186.40" y="219.70" font-size="6.4" stroke="#000" stroke-width="0.04" font-weight="bold" textLength="24.70" lengthAdjust="spacingAndGlyphs" >post NS</text>
<rect x="219.90" y="206.90" width="6.80" height="5.60" fill="#8eabd8" stroke="none" stroke-width="0.8" />
<text x="230.80" y="211.60" font-size="6.4" stroke="#000" stroke-width="0.04" font-weight="bold" font-style="italic" textLength="12.80" lengthAdjust="spacingAndGlyphs" >Atm</text>
<text x="243.90" y="207.80" font-size="4.2" font-weight="bold" textLength="5.10" lengthAdjust="spacingAndGlyphs" >+/-</text>
<rect x="219.90" y="215.40" width="6.80" height="6.50" fill="url(#dotb)" stroke="none" stroke-width="0.8" />
<text x="230.80" y="220.40" font-size="6.4" stroke="#000" stroke-width="0.04" font-weight="bold" font-style="italic" textLength="12.80" lengthAdjust="spacingAndGlyphs" >Atm</text>
<text x="243.90" y="216.60" font-size="4.2" font-weight="bold" textLength="5.10" lengthAdjust="spacingAndGlyphs" >+/-</text>
<text x="251.20" y="220.40" font-size="6.4" stroke="#000" stroke-width="0.04" font-weight="bold" textLength="25.10" lengthAdjust="spacingAndGlyphs" >post NS</text>
<line x1="197.50" y1="243.60" x2="197.50" y2="308.60" stroke="#000" stroke-width="1.0" />
<line x1="195.50" y1="243.60" x2="197.50" y2="243.60" stroke="#000" stroke-width="1.0" />
<text x="194.70" y="245.29" font-size="4.7" text-anchor="end" >300</text>
<line x1="195.50" y1="265.30" x2="197.50" y2="265.30" stroke="#000" stroke-width="1.0" />
<text x="194.70" y="266.99" font-size="4.7" text-anchor="end" >200</text>
<line x1="195.50" y1="287.00" x2="197.50" y2="287.00" stroke="#000" stroke-width="1.0" />
<text x="194.70" y="288.69" font-size="4.7" text-anchor="end" >100</text>
<line x1="195.50" y1="308.60" x2="197.50" y2="308.60" stroke="#000" stroke-width="1.0" />
<text x="194.70" y="310.29" font-size="4.7" text-anchor="end" >0</text>
<line x1="197.60" y1="308.60" x2="242.30" y2="308.60" stroke="#000" stroke-width="0.8" />
<rect x="199.50" y="272.40" width="7.30" height="36.20" fill="#fff" stroke="#000" stroke-width="0.8" />
<line x1="203.15" y1="269.10" x2="203.15" y2="275.60" stroke="#000" stroke-width="0.8" />
<line x1="201.15" y1="269.10" x2="205.15" y2="269.10" stroke="#000" stroke-width="0.8" />
<line x1="201.15" y1="275.60" x2="205.15" y2="275.60" stroke="#000" stroke-width="0.8" />
<rect x="210.20" y="285.20" width="7.50" height="23.40" fill="url(#dotg)" stroke="#555" stroke-width="0.6" />
<line x1="213.95" y1="282.50" x2="213.95" y2="287.50" stroke="#000" stroke-width="0.8" />
<line x1="211.95" y1="282.50" x2="215.95" y2="282.50" stroke="#000" stroke-width="0.8" />
<line x1="211.95" y1="287.50" x2="215.95" y2="287.50" stroke="#000" stroke-width="0.8" />
<rect x="221.20" y="257.20" width="7.30" height="51.40" fill="#8eabd8" stroke="#2c3648" stroke-width="0.8" />
<line x1="224.85" y1="252.00" x2="224.85" y2="262.20" stroke="#000" stroke-width="0.8" />
<line x1="222.85" y1="252.00" x2="226.85" y2="252.00" stroke="#000" stroke-width="0.8" />
<line x1="222.85" y1="262.20" x2="226.85" y2="262.20" stroke="#000" stroke-width="0.8" />
<rect x="232.20" y="278.50" width="7.50" height="30.10" fill="url(#dotb)" stroke="#2c3648" stroke-width="0.8" />
<line x1="235.95" y1="275.20" x2="235.95" y2="281.80" stroke="#000" stroke-width="0.8" />
<line x1="233.95" y1="275.20" x2="237.95" y2="275.20" stroke="#000" stroke-width="0.8" />
<line x1="233.95" y1="281.80" x2="237.95" y2="281.80" stroke="#000" stroke-width="0.8" />
<line x1="203.00" y1="267.40" x2="216.00" y2="267.40" stroke="#333" stroke-width="0.9" />
<polygon points="207.60,260.54 208.07,261.35 208.98,261.55 208.36,262.25 208.46,263.18 207.60,262.80 206.74,263.18 206.84,262.25 206.22,261.55 207.13,261.35" fill="#111"/>
<polygon points="211.00,260.54 211.47,261.35 212.38,261.55 211.76,262.25 211.86,263.18 211.00,262.80 210.14,263.18 210.24,262.25 209.62,261.55 210.53,261.35" fill="#111"/>
<line x1="224.20" y1="248.00" x2="236.80" y2="248.00" stroke="#555" stroke-width="0.9" />
<polygon points="227.60,241.64 228.07,242.45 228.98,242.65 228.36,243.35 228.46,244.28 227.60,243.90 226.74,244.28 226.84,243.35 226.22,242.65 227.13,242.45" fill="#111"/>
<polygon points="231.00,241.64 231.47,242.45 232.38,242.65 231.76,243.35 231.86,244.28 231.00,243.90 230.14,244.28 230.24,243.35 229.62,242.65 230.53,242.45" fill="#111"/>
<polygon points="234.40,241.64 234.87,242.45 235.78,242.65 235.16,243.35 235.26,244.28 234.40,243.90 233.54,244.28 233.64,243.35 233.02,242.65 233.93,242.45" fill="#111"/>
<text x="203.00" y="306.66" font-size="3.8" text-anchor="middle" >5</text>
<text x="225.10" y="306.66" font-size="3.8" fill="#fff" text-anchor="middle" >6</text>
<text x="184.80" y="274.90" font-size="6.2" stroke="#000" stroke-width="0.03" font-weight="bold" text-anchor="middle" textLength="37.70" lengthAdjust="spacingAndGlyphs" transform="rotate(-90 184.80 274.90)" >eEPSCs (pA)</text>
<text x="273.20" y="276.00" font-size="6.8" stroke="#000" stroke-width="0.04" font-weight="bold" text-anchor="middle" textLength="57.00" lengthAdjust="spacingAndGlyphs" transform="rotate(-90 273.20 276.00)" >NS102 sensitivity</text>
<text x="281.50" y="275.80" font-size="6.8" stroke="#000" stroke-width="0.04" font-weight="bold" text-anchor="middle" textLength="71.00" lengthAdjust="spacingAndGlyphs" transform="rotate(-90 281.50 275.80)" >% kainate component</text>
<line x1="296.50" y1="244.40" x2="296.50" y2="309.30" stroke="#000" stroke-width="1.0" />
<line x1="294.30" y1="244.40" x2="296.50" y2="244.40" stroke="#000" stroke-width="1.0" />
<text x="293.80" y="246.63" font-size="6.2" stroke="#000" stroke-width="0.13" text-anchor="end" >60</text>
<line x1="294.30" y1="266.00" x2="296.50" y2="266.00" stroke="#000" stroke-width="1.0" />
<text x="293.80" y="268.23" font-size="6.2" stroke="#000" stroke-width="0.13" text-anchor="end" >40</text>
<line x1="294.30" y1="287.60" x2="296.50" y2="287.60" stroke="#000" stroke-width="1.0" />
<text x="293.80" y="289.83" font-size="6.2" stroke="#000" stroke-width="0.13" text-anchor="end" >20</text>
<line x1="294.30" y1="309.30" x2="296.50" y2="309.30" stroke="#000" stroke-width="1.0" />
<text x="293.80" y="311.53" font-size="6.2" stroke="#000" stroke-width="0.13" text-anchor="end" >0</text>
<line x1="296.60" y1="309.30" x2="340.60" y2="309.30" stroke="#000" stroke-width="0.8" />
<line x1="307.30" y1="309.30" x2="307.30" y2="310.80" stroke="#000" stroke-width="0.6" />
<line x1="329.30" y1="309.30" x2="329.30" y2="310.80" stroke="#000" stroke-width="0.6" />
<polygon points="316.10,237.81 316.68,238.80 317.80,239.05 317.04,239.90 317.15,241.05 316.10,240.59 315.05,241.05 315.16,239.90 314.40,239.05 315.52,238.80" fill="#111"/>
<polygon points="320.20,237.81 320.78,238.80 321.90,239.05 321.14,239.90 321.25,241.05 320.20,240.59 319.15,241.05 319.26,239.90 318.50,239.05 319.62,238.80" fill="#111"/>
<circle cx="302.6" cy="264.7" r="1.7" fill="#fff" stroke="#111" stroke-width="1.0"/>
<circle cx="312.6" cy="265.6" r="1.7" fill="#fff" stroke="#111" stroke-width="1.0"/>
<circle cx="307.4" cy="269.4" r="1.7" fill="#fff" stroke="#111" stroke-width="1.0"/>
<circle cx="312.2" cy="274" r="1.7" fill="#fff" stroke="#111" stroke-width="1.0"/>
<circle cx="302.6" cy="277.1" r="1.7" fill="#fff" stroke="#111" stroke-width="1.0"/>
<circle cx="306.5" cy="275.5" r="1.7" fill="#fff" stroke="#111" stroke-width="1.0"/>
<circle cx="308.2" cy="276.6" r="1.7" fill="#fff" stroke="#111" stroke-width="1.0"/>
<circle cx="307.4" cy="285.1" r="1.7" fill="#fff" stroke="#111" stroke-width="1.0"/>
<circle cx="307.4" cy="293.1" r="1.7" fill="#fff" stroke="#111" stroke-width="1.0"/>
<circle cx="307.4" cy="299.8" r="1.7" fill="#fff" stroke="#111" stroke-width="1.0"/>
<line x1="300.30" y1="278.40" x2="315.00" y2="278.40" stroke="#000" stroke-width="0.9" />
<line x1="307.60" y1="274.60" x2="307.60" y2="282.20" stroke="#000" stroke-width="0.9" />
<circle cx="329.4" cy="249.8" r="1.7" fill="#8eabd8" stroke="#151d2c" stroke-width="1.0"/>
<circle cx="334.1" cy="252.3" r="1.7" fill="#8eabd8" stroke="#151d2c" stroke-width="1.0"/>
<circle cx="324.6" cy="256.8" r="1.7" fill="#8eabd8" stroke="#151d2c" stroke-width="1.0"/>
<circle cx="329.4" cy="256.8" r="1.7" fill="#8eabd8" stroke="#151d2c" stroke-width="1.0"/>
<circle cx="331.6" cy="259.9" r="1.7" fill="#8eabd8" stroke="#151d2c" stroke-width="1.0"/>
<circle cx="327.1" cy="262.6" r="1.7" fill="#8eabd8" stroke="#151d2c" stroke-width="1.0"/>
<circle cx="329.4" cy="274" r="1.7" fill="#8eabd8" stroke="#151d2c" stroke-width="1.0"/>
<circle cx="329.4" cy="282.6" r="1.7" fill="#8eabd8" stroke="#151d2c" stroke-width="1.0"/>
<line x1="322.70" y1="261.80" x2="336.60" y2="261.80" stroke="#000" stroke-width="0.9" />
<line x1="329.60" y1="259.30" x2="329.60" y2="265.00" stroke="#000" stroke-width="0.9" />
<rect x="321.30" y="209.30" width="6.60" height="4.80" fill="#fff" stroke="#555" stroke-width="0.6" />
<text x="332.80" y="214.00" font-size="6.0" stroke="#000" stroke-width="0.03" font-weight="bold" font-style="italic" textLength="7.00" lengthAdjust="spacingAndGlyphs" >wt</text>
<rect x="321.10" y="216.40" width="6.90" height="5.60" fill="#8eabd8" stroke="none" stroke-width="0.8" />
<text x="332.20" y="221.50" font-size="6.0" stroke="#000" stroke-width="0.03" font-weight="bold" font-style="italic" textLength="12.60" lengthAdjust="spacingAndGlyphs" >Atm</text>
<text x="345.10" y="218.00" font-size="4.2" font-weight="bold" textLength="5.00" lengthAdjust="spacingAndGlyphs" >+/-</text>
<text x="369.40" y="191.10" font-size="16.3" stroke="#000" stroke-width="0.05" font-weight="bold" >G</text>
<text x="411.00" y="191.40" font-size="6.6" textLength="5.90" lengthAdjust="spacingAndGlyphs" >wt</text>
<text x="405.90" y="198.90" font-size="6.0" textLength="16.00" lengthAdjust="spacingAndGlyphs" >DMSO</text>
<text x="423.00" y="191.40" font-size="6.8" font-style="italic" textLength="12.80" lengthAdjust="spacingAndGlyphs" >Atm</text>
<text x="437.10" y="186.00" font-size="4.8" textLength="5.70" lengthAdjust="spacingAndGlyphs" >+/-</text>
<text x="423.80" y="198.90" font-size="6.0" textLength="15.20" lengthAdjust="spacingAndGlyphs" >DMSO</text>
<text x="446.20" y="191.40" font-size="6.8" font-style="italic" textLength="13.30" lengthAdjust="spacingAndGlyphs" >Atm</text>
<text x="460.50" y="185.50" font-size="4.8" textLength="5.70" lengthAdjust="spacingAndGlyphs" >+/-</text>
<text x="444.90" y="198.90" font-size="6.0" textLength="6.40" lengthAdjust="spacingAndGlyphs" >VU</text>
<text x="402.90" y="210.40" font-size="5.8" text-anchor="end" textLength="12.20" lengthAdjust="spacingAndGlyphs" >120 -</text>
<text x="402.90" y="222.20" font-size="5.8" text-anchor="end" textLength="8.00" lengthAdjust="spacingAndGlyphs" >42 -</text>
<rect x="405.20" y="202.30" width="51.90" height="10.50" fill="#ebebeb" filter="url(#bl2)"/>
<rect x="407.60" y="206.20" width="12.90" height="5.00" rx="2.50" fill="#000" filter="url(#bl)"/>
<rect x="424.60" y="206.10" width="13.50" height="5.00" rx="2.50" fill="#000" filter="url(#bl)"/>
<rect x="441.90" y="204.80" width="11.90" height="3.60" rx="1.80" fill="#cfcfcf" filter="url(#bl)"/>
<rect x="405.20" y="215.60" width="51.90" height="8.60" fill="#ebebeb" filter="url(#bl2)"/>
<rect x="407.60" y="217.20" width="13.40" height="5.60" rx="2.80" fill="#1a1a1a" filter="url(#bl)"/>
<rect x="424.20" y="217.20" width="13.80" height="5.60" rx="2.80" fill="#2a2a2a" filter="url(#bl)"/>
<rect x="431.00" y="218.50" width="7.00" height="4.00" rx="2.00" fill="#000" filter="url(#bl)"/>
<rect x="442.00" y="216.60" width="13.00" height="3.40" rx="1.70" fill="#787878" filter="url(#bl)"/>
<text x="459.50" y="208.60" font-size="5.6" stroke="#000" stroke-width="0.07" textLength="30.50" lengthAdjust="spacingAndGlyphs" >KA2/ Grik-5</text>
<text x="460.10" y="221.50" font-size="5.6" stroke="#000" stroke-width="0.07" textLength="11.80" lengthAdjust="spacingAndGlyphs" >actin</text>
<line x1="407.50" y1="234.10" x2="407.50" y2="309.30" stroke="#000" stroke-width="1.0" />
<line x1="405.50" y1="234.10" x2="407.50" y2="234.10" stroke="#000" stroke-width="1.0" />
<text x="404.70" y="235.83" font-size="4.8" text-anchor="end" >3</text>
<line x1="405.50" y1="259.20" x2="407.50" y2="259.20" stroke="#000" stroke-width="1.0" />
<text x="404.70" y="260.93" font-size="4.8" text-anchor="end" >2</text>
<line x1="405.50" y1="284.30" x2="407.50" y2="284.30" stroke="#000" stroke-width="1.0" />
<text x="404.70" y="286.03" font-size="4.8" text-anchor="end" >1</text>
<line x1="405.50" y1="309.30" x2="407.50" y2="309.30" stroke="#000" stroke-width="1.0" />
<text x="404.70" y="311.03" font-size="4.8" text-anchor="end" >0</text>
<line x1="407.10" y1="309.30" x2="457.50" y2="309.30" stroke="#000" stroke-width="0.8" />
<rect x="410.00" y="287.30" width="12.30" height="22.00" fill="#fff" stroke="#000" stroke-width="0.9" />
<line x1="416.15" y1="285.00" x2="416.15" y2="289.30" stroke="#000" stroke-width="0.8" />
<line x1="413.85" y1="285.00" x2="418.45" y2="285.00" stroke="#000" stroke-width="0.8" />
<line x1="413.85" y1="289.30" x2="418.45" y2="289.30" stroke="#000" stroke-width="0.8" />
<rect x="426.30" y="259.30" width="12.30" height="50.00" fill="#8eabd8" stroke="#2c3648" stroke-width="1.0" />
<line x1="432.45" y1="249.30" x2="432.45" y2="269.30" stroke="#000" stroke-width="0.8" />
<line x1="429.85" y1="249.30" x2="435.05" y2="249.30" stroke="#000" stroke-width="0.8" />
<line x1="429.85" y1="269.30" x2="435.05" y2="269.30" stroke="#000" stroke-width="0.8" />
<rect x="443.40" y="285.00" width="12.30" height="24.30" fill="url(#hstripe)" stroke="#2c3648" stroke-width="1.0" />
<line x1="449.55" y1="280.10" x2="449.55" y2="289.30" stroke="#000" stroke-width="0.8" />
<line x1="446.95" y1="280.10" x2="452.15" y2="280.10" stroke="#000" stroke-width="0.8" />
<line x1="446.95" y1="289.30" x2="452.15" y2="289.30" stroke="#000" stroke-width="0.8" />
<line x1="416.10" y1="242.40" x2="430.70" y2="242.40" stroke="#000" stroke-width="1.2" />
<polygon points="423.00,236.22 423.54,237.15 424.60,237.38 423.88,238.19 423.99,239.26 423.00,238.82 422.01,239.26 422.12,238.19 421.40,237.38 422.46,237.15" fill="#111"/>
<line x1="433.60" y1="241.90" x2="449.40" y2="241.90" stroke="#444" stroke-width="1.6" />
<polygon points="441.00,236.93 441.51,237.80 442.49,238.02 441.82,238.77 441.92,239.77 441.00,239.36 440.08,239.77 440.18,238.77 439.51,238.02 440.49,237.80" fill="#111"/>
<text x="415.90" y="308.79" font-size="6.4" stroke="#000" stroke-width="0.04" font-weight="bold" text-anchor="middle" >10</text>
<text x="432.40" y="308.79" font-size="6.4" stroke="#fff" stroke-width="0.04" font-weight="bold" fill="#fff" text-anchor="middle" >11</text>
<text x="449.40" y="307.79" font-size="5.0" font-weight="bold" fill="#e8eef8" text-anchor="middle" >9</text>
<text x="389.10" y="274.10" font-size="6.8" stroke="#000" stroke-width="0.04" font-weight="bold" text-anchor="middle" textLength="42.60" lengthAdjust="spacingAndGlyphs" transform="rotate(-90 389.10 274.10)" >Gluk-5 (o.d)</text>
<text x="399.00" y="272.20" font-size="6.8" stroke="#000" stroke-width="0.04" font-weight="bold" text-anchor="middle" textLength="59.00" lengthAdjust="spacingAndGlyphs" transform="rotate(-90 399.00 272.20)" >normalized values</text>
<text x="495.90" y="191.10" font-size="16.3" stroke="#000" stroke-width="0.05" font-weight="bold" >H</text>
<rect x="522.20" y="191.30" width="6.30" height="4.30" fill="#fff" stroke="#444" stroke-width="0.6" />
<text x="532.60" y="195.40" font-size="6.0" stroke="#000" stroke-width="0.03" font-weight="bold" font-style="italic" textLength="7.50" lengthAdjust="spacingAndGlyphs" >wt</text>
<rect x="549.20" y="190.70" width="6.60" height="6.20" fill="#8eabd8" stroke="none" stroke-width="0.8" />
<text x="560.00" y="196.30" font-size="6.0" stroke="#000" stroke-width="0.03" font-weight="bold" font-style="italic" textLength="12.70" lengthAdjust="spacingAndGlyphs" >Atm</text>
<text x="573.20" y="192.50" font-size="4.0" font-weight="bold" textLength="4.60" lengthAdjust="spacingAndGlyphs" >+/-</text>
<rect x="585.80" y="190.50" width="6.80" height="5.80" fill="#1f2e4c" stroke="none" stroke-width="0.8" />
<rect x="585.80" y="193.00" width="6.80" height="0.80" fill="#9db6de" stroke="none" stroke-width="0.8" />
<text x="596.90" y="196.40" font-size="6.4" stroke="#000" stroke-width="0.04" font-weight="bold" font-style="italic" textLength="12.20" lengthAdjust="spacingAndGlyphs" >Atm</text>
<text x="609.90" y="192.60" font-size="4.0" font-weight="bold" font-style="italic" textLength="4.60" lengthAdjust="spacingAndGlyphs" >+/-</text>
<text x="614.50" y="196.40" font-size="6.4" stroke="#000" stroke-width="0.04" font-weight="bold" textLength="12.30" lengthAdjust="spacingAndGlyphs" >+VU</text>
<text x="529.20" y="216.60" font-size="7.0" stroke="#7ee07e" stroke-width="0.22" fill="#7ee07e" textLength="23.80" lengthAdjust="spacingAndGlyphs" >sucrose</text>
<line x1="529.70" y1="219.30" x2="555.40" y2="219.30" stroke="#5ce05c" stroke-width="1.4" />
<text x="572.00" y="222.20" font-size="6.2" stroke="#000" stroke-width="0.13" textLength="5.60" lengthAdjust="spacingAndGlyphs" >wt</text>
<text x="572.00" y="229.80" font-size="6.4" stroke="#000" stroke-width="0.15" textLength="15.20" lengthAdjust="spacingAndGlyphs" >DMSO</text>
<text x="571.60" y="253.70" font-size="7.4" stroke="#000" stroke-width="0.06" font-style="italic" textLength="12.60" lengthAdjust="spacingAndGlyphs" >Atm</text>
<text x="585.30" y="248.60" font-size="5.0" textLength="5.60" lengthAdjust="spacingAndGlyphs" >+/-</text>
<text x="572.00" y="261.80" font-size="6.4" stroke="#000" stroke-width="0.15" textLength="15.00" lengthAdjust="spacingAndGlyphs" >DMSO</text>
<text x="571.60" y="288.20" font-size="7.4" stroke="#000" stroke-width="0.06" font-style="italic" textLength="12.60" lengthAdjust="spacingAndGlyphs" >Atm</text>
<text x="585.30" y="283.20" font-size="5.0" textLength="5.60" lengthAdjust="spacingAndGlyphs" >+/-</text>
<text x="572.00" y="298.50" font-size="6.4" stroke="#000" stroke-width="0.15" textLength="6.40" lengthAdjust="spacingAndGlyphs" >VU</text>
<text x="496.00" y="243.20" font-size="5.6" stroke="#000" stroke-width="0.07" textLength="17.00" lengthAdjust="spacingAndGlyphs" >100pA</text>
<path d="M514.6,238.5 L514.6,244.4 L520.5,244.4" stroke="#000" stroke-width="0.8" fill="none" />
<text x="510.60" y="250.60" font-size="5.2" stroke="#000" stroke-width="0.02" textLength="11.90" lengthAdjust="spacingAndGlyphs" >1sec</text>
<path d="M530.00,227.58 L530.00,229.32 M530.83,229.48 L530.83,232.15 M531.51,231.03 L531.51,232.21 M532.06,232.30 L532.06,234.25 M532.86,232.62 L532.86,234.81 M533.76,230.95 L533.76,231.92 M534.29,230.32 L534.29,231.26 M534.81,229.98 L534.81,231.47 M535.71,229.41 L535.71,231.01 M536.28,229.05 L536.28,230.53 M536.87,228.67 L536.87,229.60 M537.70,228.19 L537.70,228.71 M538.17,228.12 L538.17,229.36 M538.75,228.04 L538.75,228.78 M539.50,227.94 L539.50,228.92 M539.92,227.89 L539.92,228.54 M540.59,227.80 L540.59,228.54 M541.12,227.72 L541.12,228.52 M542.08,227.59 L542.08,228.20 M542.80,227.50 L542.80,227.88 M543.38,227.42 L543.38,228.16 M543.86,227.35 L543.86,228.22 M544.79,227.23 L544.79,227.56 M545.74,227.16 L545.74,227.63 M546.59,227.10 L546.59,227.78 M547.18,227.07 L547.18,227.68 M547.96,227.02 L547.96,227.68 M548.53,226.99 L548.53,227.61 M549.49,226.93 L549.49,227.48 M550.21,226.89 L550.21,227.15 M550.91,226.85 L550.91,227.22 M551.73,226.80 L551.73,227.31 M552.47,226.75 L552.47,227.03 M553.25,226.71 L553.25,227.18 M553.77,226.67 L553.77,227.25 M554.55,226.63 L554.55,226.86 M555.50,226.56 L555.50,226.80 M556.10,226.50 L556.10,226.98 M556.86,226.43 L556.86,226.84 M557.64,226.36 L557.64,226.72 M558.23,226.31 L558.23,226.55 M558.69,226.27 L558.69,226.73 M559.53,226.20 L559.53,226.58" stroke="#888" stroke-width="0.5" fill="none" />
<path d="M519.00,226.11 L519.00,226.94 M519.49,226.15 L519.49,227.00 M520.27,226.21 L520.27,226.70 M520.87,226.26 L520.87,226.96 M521.60,226.32 L521.60,227.13 M522.12,226.36 L522.12,227.22 M522.74,226.41 L522.74,227.64 M523.27,226.46 L523.27,227.76 M523.68,226.49 L523.68,227.20 M524.09,226.53 L524.09,227.07 M524.82,226.59 L524.82,227.75 M525.27,226.62 L525.27,227.24 M525.83,226.65 L525.83,227.83 M526.58,226.70 L526.58,227.88 M527.23,226.74 L527.23,227.31 M527.78,226.78 L527.78,227.39 M528.39,226.82 L528.39,227.80 M528.85,226.85 L528.85,227.51 M529.58,226.89 L529.58,227.34 M530.33,228.33 L530.33,229.62 M531.14,230.19 L531.14,230.98 M531.77,231.62 L531.77,232.60 M532.43,233.15 L532.43,234.50 M533.12,232.14 L533.12,232.83 M533.90,230.69 L533.90,231.56 M534.55,230.15 L534.55,231.25 M534.91,229.92 L534.91,231.06 M535.58,229.49 L535.58,230.36 M536.20,229.10 L536.20,229.93 M536.65,228.81 L536.65,229.71 M537.03,228.57 L537.03,229.43 M537.70,228.19 L537.70,229.00 M538.33,228.10 L538.33,229.39 M539.12,228.00 L539.12,228.52 M539.86,227.90 L539.86,228.86 M540.24,227.84 L540.24,228.57 M540.71,227.78 L540.71,228.24 M541.33,227.70 L541.33,228.93 M541.85,227.63 L541.85,228.80 M542.54,227.53 L542.54,228.04 M543.31,227.43 L543.31,228.35 M544.12,227.32 L544.12,228.34 M544.83,227.22 L544.83,227.91 M545.58,227.17 L545.58,228.37 M546.35,227.12 L546.35,227.88 M547.08,227.08 L547.08,227.88 M547.49,227.05 L547.49,227.46 M547.89,227.03 L547.89,227.58 M548.32,227.00 L548.32,227.81 M549.02,226.96 L549.02,227.80 M549.58,226.93 L549.58,227.86 M550.09,226.89 L550.09,227.67 M550.81,226.85 L550.81,227.56 M551.26,226.82 L551.26,227.96 M551.96,226.78 L551.96,227.46 M552.50,226.75 L552.50,227.56 M553.15,226.71 L553.15,227.26 M553.51,226.69 L553.51,227.23 M554.24,226.65 L554.24,227.13 M554.83,226.61 L554.83,227.13 M555.29,226.57 L555.29,227.08 M555.84,226.53 L555.84,227.02 M556.21,226.49 L556.21,226.94 M556.65,226.45 L556.65,227.22 M557.04,226.42 L557.04,226.79 M557.62,226.37 L557.62,227.06 M558.31,226.30 L558.31,226.70 M558.87,226.25 L558.87,226.93 M559.24,226.22 L559.24,227.36 M559.71,226.18 L559.71,226.61 M560.29,226.13 L560.29,226.61 M560.95,226.07 L560.95,226.70 M561.37,226.03 L561.37,226.42 M562.08,225.97 L562.08,226.53 M562.82,225.90 L562.82,226.62 M563.63,225.83 L563.63,226.41 M564.11,225.79 L564.11,226.34 M564.86,225.72 L564.86,226.56 M565.38,225.67 L565.38,226.09" stroke="#999" stroke-width="0.5" fill="none" />
<path d="M518.90,226.66 L519.66,226.27 L520.42,225.63 L521.19,225.72 L521.95,225.86 L522.71,226.02 L523.48,225.92 L524.24,226.00 L525.00,226.79 L525.78,227.13 L526.57,226.34 L527.35,227.32 L528.13,226.77 L528.92,227.21 L529.70,227.40 L530.60,229.48 L531.50,230.44 L532.50,233.07 L533.25,232.03 L534.00,231.04 L534.72,229.55 L535.44,229.33 L536.16,229.54 L536.88,228.20 L537.60,228.07 L538.34,227.90 L539.08,228.22 L539.82,228.41 L540.56,227.41 L541.30,227.99 L542.04,227.88 L542.78,227.90 L543.52,227.46 L544.26,227.81 L545.00,227.04 L545.71,227.05 L546.43,226.79 L547.14,227.41 L547.86,227.01 L548.57,226.71 L549.29,226.55 L550.00,227.16 L550.71,226.98 L551.43,227.07 L552.14,226.64 L552.86,226.71 L553.57,226.27 L554.29,226.90 L555.00,226.03 L555.70,226.50 L556.40,226.79 L557.10,226.63 L557.80,225.87 L558.50,225.97 L559.20,226.64 L559.90,226.33 L560.60,226.55 L561.30,226.48 L562.00,225.91 L562.70,226.39 L563.40,226.13 L564.10,225.59 L564.80,225.57 L565.50,225.15 L566.20,225.60" stroke="#000" stroke-width="1.7" fill="none" stroke-linejoin="round"/>
<path d="M532.4,229 L532.5,240.4" stroke="#444" stroke-width="0.7" fill="none" />
<path d="M529.50,262.00 L529.50,265.77 M530.18,266.20 L530.18,268.46 M530.71,269.45 L530.71,271.61 M531.04,269.90 L531.04,274.09 M531.44,269.73 L531.44,271.51 M531.80,269.57 L531.80,273.44 M532.33,269.19 L532.33,270.69 M532.73,268.57 L532.73,273.16 M533.11,267.96 L533.11,271.10 M533.58,267.23 L533.58,270.88 M534.12,266.38 L534.12,269.86 M534.64,265.57 L534.64,267.25 M535.01,264.99 L535.01,266.33 M535.64,264.46 L535.64,265.80 M535.95,264.20 L535.95,267.55 M536.33,263.88 L536.33,266.94 M536.66,263.59 L536.66,265.60 M537.05,263.26 L537.05,265.99 M537.60,262.80 L537.60,265.00 M538.20,262.29 L538.20,264.82 M538.64,261.92 L538.64,263.85 M539.12,261.57 L539.12,262.54 M539.75,261.20 L539.75,262.93 M540.38,260.83 L540.38,261.85 M540.89,260.53 L540.89,261.90 M541.49,260.19 L541.49,260.92 M541.92,259.93 L541.92,261.21 M542.25,259.74 L542.25,261.08 M542.85,259.39 L542.85,260.50 M543.41,259.12 L543.41,260.41 M543.79,258.95 L543.79,259.89 M544.49,258.65 L544.49,259.52 M544.96,258.44 L544.96,259.01 M545.35,258.27 L545.35,258.91 M546.02,257.98 L546.02,259.16 M546.67,257.69 L546.67,259.07 M547.22,257.46 L547.22,258.73 M547.73,257.23 L547.73,258.00 M548.41,257.08 L548.41,258.23 M549.09,256.95 L549.09,257.70 M549.70,256.83 L549.70,257.50 M550.40,256.69 L550.40,257.72 M550.82,256.61 L550.82,257.63 M551.19,256.54 L551.19,256.92 M551.78,256.43 L551.78,256.93 M552.29,256.33 L552.29,257.06 M552.60,256.27 L552.60,257.06 M553.01,256.19 L553.01,256.75 M553.45,256.10 L553.45,256.85 M554.05,255.98 L554.05,256.43 M554.39,255.92 L554.39,256.37 M554.85,255.83 L554.85,256.13 M555.22,255.76 L555.22,256.46 M555.80,255.64 L555.80,256.45 M556.49,255.50 L556.49,256.23 M556.94,255.41 L556.94,255.73 M557.36,255.32 L557.36,255.80 M557.87,255.22 L557.87,255.73 M558.32,255.13 L558.32,255.80 M558.73,255.05 L558.73,255.50 M559.39,254.91 L559.39,255.53 M559.80,254.83 L559.80,255.16 M560.43,254.70 L560.43,254.92 M560.78,254.63 L560.78,255.09 M561.29,254.53 L561.29,254.81 M561.61,254.46 L561.61,254.76" stroke="#888" stroke-width="0.5" fill="none" />
<path d="M519.00,253.21 L519.00,254.09 M519.83,253.29 L519.83,254.47 M520.66,253.37 L520.66,253.82 M521.11,253.42 L521.11,253.84 M521.68,253.47 L521.68,254.21 M522.06,253.51 L522.06,254.44 M522.47,253.55 L522.47,254.26 M522.94,253.59 L522.94,254.77 M523.51,253.63 L523.51,254.29 M523.89,253.65 L523.89,254.47 M524.55,253.69 L524.55,254.73 M525.35,253.74 L525.35,254.90 M525.82,253.76 L525.82,254.29 M526.55,253.80 L526.55,254.94 M527.15,253.84 L527.15,255.01 M527.78,253.88 L527.78,254.53 M528.22,253.99 L528.22,254.40 M528.89,257.23 L528.89,258.45 M529.68,261.32 L529.68,262.14 M530.36,265.50 L530.36,266.74 M531.11,268.07 L531.11,269.00 M531.67,267.83 L531.67,268.68 M532.11,267.64 L532.11,268.19 M532.80,266.65 L532.80,267.93 M533.42,265.68 L533.42,266.43 M533.95,264.85 L533.95,265.63 M534.70,263.67 L534.70,264.46 M535.52,262.76 L535.52,263.28 M536.03,262.33 L536.03,263.17 M536.59,261.86 L536.59,262.98 M537.35,261.22 L537.35,262.40 M538.00,260.66 L538.00,261.06 M538.63,260.12 L538.63,260.97 M539.23,259.71 L539.23,260.32 M539.93,259.30 L539.93,260.45 M540.34,259.06 L540.34,260.00 M540.88,258.74 L540.88,259.55 M541.67,258.28 L541.67,259.46 M542.34,257.89 L542.34,258.42 M543.14,257.44 L543.14,257.95 M543.68,257.20 L543.68,258.26 M544.19,256.98 L544.19,257.57 M545.01,256.62 L545.01,257.77 M545.52,256.40 L545.52,257.08 M546.02,256.18 L546.02,256.65 M546.50,255.97 L546.50,257.14 M546.90,255.80 L546.90,256.34 M547.35,255.60 L547.35,256.02 M547.96,255.37 L547.96,256.33 M548.73,255.22 L548.73,256.09 M549.48,255.07 L549.48,255.43 M549.97,254.98 L549.97,256.11 M550.37,254.90 L550.37,255.46 M550.96,254.79 L550.96,255.35 M551.58,254.66 L551.58,255.05 M552.05,254.57 L552.05,255.69 M552.48,254.49 L552.48,255.56 M552.93,254.40 L552.93,255.54 M553.61,254.27 L553.61,255.13 M554.04,254.19 L554.04,254.57 M554.77,254.05 L554.77,254.52 M555.22,253.96 L555.22,254.94 M556.00,253.80 L556.00,254.17 M556.82,253.63 L556.82,254.39 M557.36,253.52 L557.36,253.94 M557.91,253.41 L557.91,254.51 M558.40,253.31 L558.40,253.75 M558.83,253.23 L558.83,253.65 M559.36,253.12 L559.36,254.15 M559.76,253.04 L559.76,253.52 M560.57,252.87 L560.57,253.97 M561.40,252.71 L561.40,253.22 M561.93,252.60 L561.93,253.65 M562.52,252.48 L562.52,253.34 M563.03,252.38 L563.03,252.72 M563.56,252.27 L563.56,253.16" stroke="#999" stroke-width="0.5" fill="none" />
<path d="M518.90,255.11 L519.72,255.02 L520.54,255.22 L521.36,255.15 L522.18,255.38 L523.00,255.93 L523.74,254.96 L524.49,255.64 L525.23,256.22 L525.97,256.13 L526.71,255.10 L527.46,256.40 L528.20,256.24 L529.50,261.47 L530.80,269.63 L531.50,269.22 L532.20,268.68 L533.13,268.70 L534.07,266.32 L535.00,265.60 L535.78,263.72 L536.56,262.90 L537.34,263.61 L538.12,262.83 L538.90,262.49 L539.72,261.52 L540.54,260.78 L541.36,260.69 L542.18,259.13 L543.00,259.36 L543.80,258.86 L544.60,258.03 L545.40,258.41 L546.20,257.62 L547.00,257.56 L547.80,257.00 L548.52,256.77 L549.24,256.69 L549.96,256.94 L550.68,257.41 L551.40,257.20 L552.12,256.94 L552.84,256.76 L553.56,255.74 L554.28,256.70 L555.00,255.43 L555.72,255.05 L556.45,255.51 L557.17,255.73 L557.89,254.96 L558.62,255.30 L559.34,254.57 L560.06,255.52 L560.78,254.56 L561.51,254.45 L562.23,254.39 L562.95,254.79 L563.68,254.82 L564.40,253.90" stroke="#000" stroke-width="2.0" fill="none" stroke-linejoin="round"/>
<path d="M530.3,260 L530.4,280.6 M531.8,266 L532.2,276 M534,265 L534.5,272" stroke="#555" stroke-width="0.6" fill="none" />
<path d="M530.00,292.78 L530.00,296.46 M530.48,294.54 L530.48,298.38 M530.80,295.55 L530.80,298.58 M531.44,297.52 L531.44,301.54 M531.77,298.05 L531.77,302.18 M532.22,298.17 L532.22,302.52 M532.67,298.29 L532.67,300.19 M533.19,297.39 L533.19,301.07 M533.66,296.51 L533.66,299.98 M534.24,295.41 L534.24,297.42 M534.66,294.63 L534.66,296.90 M535.12,293.88 L535.12,295.74 M535.68,293.32 L535.68,296.20 M536.22,292.78 L536.22,293.99 M536.61,292.39 L536.61,294.02 M537.15,291.85 L537.15,292.95 M537.48,291.52 L537.48,292.92 M537.90,291.10 L537.90,291.93 M538.41,290.79 L538.41,293.11 M538.93,290.52 L538.93,292.44 M539.56,290.20 L539.56,292.17 M540.22,289.85 L540.22,291.13 M540.80,289.56 L540.80,290.33 M541.45,289.33 L541.45,290.40 M541.94,289.23 L541.94,290.92 M542.35,289.15 L542.35,289.91 M542.98,289.02 L542.98,290.23 M543.32,288.95 L543.32,289.47 M543.76,288.86 L543.76,289.34 M544.39,288.73 L544.39,289.38 M544.80,288.65 L544.80,289.49 M545.30,288.55 L545.30,289.40 M545.86,288.44 L545.86,289.47 M546.33,288.34 L546.33,288.82 M547.02,288.20 L547.02,289.18 M547.36,288.13 L547.36,288.88 M547.96,288.01 L547.96,289.18 M548.28,287.96 L548.28,288.32 M548.78,287.90 L548.78,288.57 M549.43,287.82 L549.43,288.77 M549.87,287.77 L549.87,288.39 M550.40,287.70 L550.40,288.64 M550.78,287.65 L550.78,288.23 M551.12,287.61 L551.12,288.34 M551.43,287.57 L551.43,288.49 M551.94,287.51 L551.94,288.17 M552.27,287.47 L552.27,287.89 M552.76,287.41 L552.76,288.21 M553.27,287.34 L553.27,287.78 M553.97,287.25 L553.97,287.90 M554.48,287.19 L554.48,287.56 M554.90,287.14 L554.90,287.90 M555.25,287.09 L555.25,287.63 M555.80,287.03 L555.80,287.46 M556.40,286.88 L556.40,287.60 M557.05,286.70 L557.05,287.31 M557.43,286.59 L557.43,286.84 M557.90,286.46 L557.90,286.83 M558.28,286.35 L558.28,287.00 M558.67,286.24 L558.67,286.86 M559.34,286.05 L559.34,286.31 M560.01,285.86 L560.01,286.25 M560.39,285.75 L560.39,286.03 M560.71,285.66 L560.71,286.09 M561.16,285.53 L561.16,286.11 M561.79,285.34 L561.79,285.56" stroke="#888" stroke-width="0.5" fill="none" />
<path d="M519.00,285.41 L519.00,286.22 M519.45,285.48 L519.45,286.14 M519.93,285.55 L519.93,286.64 M520.45,285.63 L520.45,286.15 M520.92,285.70 L520.92,286.54 M521.55,285.79 L521.55,286.44 M522.25,285.89 L522.25,286.51 M522.93,285.99 L522.93,286.98 M523.37,286.03 L523.37,287.16 M523.92,286.08 L523.92,287.00 M524.57,286.13 L524.57,287.13 M525.14,286.18 L525.14,286.64 M525.88,286.24 L525.88,287.45 M526.48,286.29 L526.48,287.24 M526.96,286.34 L526.96,287.57 M527.65,286.39 L527.65,287.00 M528.41,286.46 L528.41,287.76 M528.93,286.63 L528.93,287.94 M529.52,289.04 L529.52,289.60 M530.23,291.91 L530.23,292.61 M530.94,294.17 L530.94,295.09 M531.35,295.43 L531.35,296.30 M532.12,296.34 L532.12,297.16 M532.74,296.43 L532.74,297.59 M533.31,295.35 L533.31,296.18 M533.95,294.16 L533.95,295.28 M534.41,293.30 L534.41,293.77 M535.14,292.06 L535.14,292.93 M535.64,291.56 L535.64,292.73 M536.43,290.77 L536.43,291.63 M537.26,289.94 L537.26,291.05 M537.98,289.22 L537.98,289.85 M538.34,289.02 L538.34,289.98 M539.06,288.65 L539.06,289.33 M539.65,288.35 L539.65,289.21 M540.13,288.10 L540.13,289.07 M540.76,287.78 L540.76,288.47 M541.17,287.59 L541.17,288.43 M541.68,287.48 L541.68,288.46 M542.13,287.39 L542.13,288.09 M542.58,287.30 L542.58,288.01 M543.22,287.17 L543.22,287.62 M543.60,287.09 L543.60,287.86 M544.06,287.00 L544.06,287.78 M544.50,286.91 L544.50,287.35 M545.12,286.78 L545.12,287.91 M545.89,286.63 L545.89,287.41 M546.45,286.52 L546.45,286.93 M546.94,286.42 L546.94,287.03 M547.75,286.25 L547.75,286.70 M548.56,286.13 L548.56,286.87 M549.13,286.06 L549.13,286.62 M549.96,285.96 L549.96,286.45 M550.59,285.88 L550.59,286.64 M551.05,285.82 L551.05,286.35 M551.88,285.72 L551.88,286.69 M552.59,285.63 L552.59,286.69 M553.00,285.58 L553.00,286.48 M553.72,285.49 L553.72,286.01 M554.30,285.41 L554.30,286.52 M554.81,285.35 L554.81,286.29 M555.25,285.29 L555.25,286.16 M555.74,285.23 L555.74,285.97 M556.28,285.12 L556.28,286.14 M557.00,284.91 L557.00,285.64 M557.69,284.72 L557.69,285.38 M558.43,284.50 L558.43,285.04 M559.06,284.33 L559.06,285.11 M559.60,284.17 L559.60,284.54 M560.04,284.04 L560.04,284.87 M560.51,283.91 L560.51,284.82 M561.11,283.74 L561.11,284.80 M561.87,283.52 L561.87,284.40 M562.41,283.37 L562.41,283.73 M563.04,283.19 L563.04,284.08 M563.84,282.96 L563.84,283.43" stroke="#999" stroke-width="0.5" fill="none" />
<path d="M518.90,287.97 L519.72,287.70 L520.54,287.42 L521.36,287.94 L522.18,287.12 L523.00,287.87 L523.74,288.13 L524.48,288.09 L525.21,287.45 L525.95,287.47 L526.69,288.31 L527.42,288.79 L528.16,287.66 L528.90,287.51 L530.30,293.33 L531.60,298.46 L532.70,298.13 L533.47,296.80 L534.23,296.22 L535.00,294.18 L535.75,292.87 L536.50,292.82 L537.25,290.95 L538.00,290.65 L538.77,290.92 L539.55,289.67 L540.33,289.05 L541.10,289.43 L541.87,288.97 L542.63,289.84 L543.40,288.30 L544.17,289.26 L544.93,288.44 L545.70,288.96 L546.47,288.22 L547.23,288.42 L548.00,287.72 L548.73,287.47 L549.45,287.74 L550.18,288.21 L550.91,287.39 L551.64,287.11 L552.36,287.32 L553.09,286.72 L553.82,286.98 L554.55,287.30 L555.27,287.16 L556.00,287.16 L556.76,286.45 L557.53,285.80 L558.29,285.59 L559.05,285.87 L559.82,285.42 L560.58,285.80 L561.35,285.10 L562.11,285.67 L562.87,285.20 L563.64,285.08 L564.40,284.60" stroke="#000" stroke-width="2.0" fill="none" stroke-linejoin="round"/>
<path d="M531.1,292 L531.1,309.4 M533,294 L533.3,304 M535.5,292 L535.8,299" stroke="#555" stroke-width="0.6" fill="none" />
<line x1="630.50" y1="235.00" x2="630.50" y2="308.40" stroke="#000" stroke-width="1.0" />
<line x1="628.50" y1="235.00" x2="630.50" y2="235.00" stroke="#000" stroke-width="1.0" />
<text x="628.10" y="236.91" font-size="5.3" stroke="#000" stroke-width="0.03" text-anchor="end" >5000</text>
<line x1="628.50" y1="249.70" x2="630.50" y2="249.70" stroke="#000" stroke-width="1.0" />
<text x="628.10" y="251.61" font-size="5.3" stroke="#000" stroke-width="0.03" text-anchor="end" >4000</text>
<line x1="628.50" y1="264.30" x2="630.50" y2="264.30" stroke="#000" stroke-width="1.0" />
<text x="628.10" y="266.21" font-size="5.3" stroke="#000" stroke-width="0.03" text-anchor="end" >3000</text>
<line x1="628.50" y1="279.00" x2="630.50" y2="279.00" stroke="#000" stroke-width="1.0" />
<text x="628.10" y="280.91" font-size="5.3" stroke="#000" stroke-width="0.03" text-anchor="end" >2000</text>
<line x1="628.50" y1="293.70" x2="630.50" y2="293.70" stroke="#000" stroke-width="1.0" />
<text x="628.10" y="295.61" font-size="5.3" stroke="#000" stroke-width="0.03" text-anchor="end" >1000</text>
<line x1="628.50" y1="308.40" x2="630.50" y2="308.40" stroke="#000" stroke-width="1.0" />
<text x="628.10" y="310.31" font-size="5.3" stroke="#000" stroke-width="0.03" text-anchor="end" >0</text>
<line x1="630.90" y1="308.40" x2="680.00" y2="308.40" stroke="#000" stroke-width="0.8" />
<rect x="633.70" y="293.00" width="10.60" height="15.40" fill="#fff" stroke="#000" stroke-width="0.9" />
<line x1="639.00" y1="290.10" x2="639.00" y2="296.40" stroke="#000" stroke-width="0.8" />
<line x1="636.60" y1="290.10" x2="641.40" y2="290.10" stroke="#000" stroke-width="0.8" />
<line x1="636.60" y1="296.40" x2="641.40" y2="296.40" stroke="#000" stroke-width="0.8" />
<rect x="650.90" y="259.30" width="10.50" height="49.10" fill="#8eabd8" stroke="#2c3648" stroke-width="1.0" />
<line x1="656.15" y1="249.30" x2="656.15" y2="269.30" stroke="#000" stroke-width="0.8" />
<line x1="653.45" y1="249.30" x2="658.85" y2="249.30" stroke="#000" stroke-width="0.8" />
<line x1="653.45" y1="269.30" x2="658.85" y2="269.30" stroke="#000" stroke-width="0.8" />
<rect x="666.20" y="281.60" width="11.40" height="26.80" fill="url(#hstripe)" stroke="#2c3648" stroke-width="1.0" />
<line x1="671.90" y1="276.40" x2="671.90" y2="287.30" stroke="#000" stroke-width="0.8" />
<line x1="669.20" y1="276.40" x2="674.60" y2="276.40" stroke="#000" stroke-width="0.8" />
<line x1="669.20" y1="287.30" x2="674.60" y2="287.30" stroke="#000" stroke-width="0.8" />
<line x1="636.20" y1="238.10" x2="652.60" y2="238.10" stroke="#222" stroke-width="1.2" />
<polygon points="642.80,232.06 643.36,233.03 644.45,233.26 643.71,234.10 643.82,235.20 642.80,234.75 641.78,235.20 641.89,234.10 641.15,233.26 642.24,233.03" fill="#111"/>
<polygon points="646.80,232.06 647.36,233.03 648.45,233.26 647.71,234.10 647.82,235.20 646.80,234.75 645.78,235.20 645.89,234.10 645.15,233.26 646.24,233.03" fill="#111"/>
<line x1="657.00" y1="238.10" x2="673.10" y2="238.10" stroke="#222" stroke-width="1.2" />
<polygon points="665.00,232.06 665.56,233.03 666.65,233.26 665.91,234.10 666.02,235.20 665.00,234.75 663.98,235.20 664.09,234.10 663.35,233.26 664.44,233.03" fill="#111"/>
<text x="638.90" y="307.46" font-size="5.2" stroke="#000" stroke-width="0.01" font-weight="bold" text-anchor="middle" >8</text>
<text x="656.10" y="307.68" font-size="5.8" stroke="#000" stroke-width="0.02" font-weight="bold" text-anchor="middle" >10</text>
<text x="671.90" y="307.68" font-size="5.8" stroke="#fff" stroke-width="0.02" font-weight="bold" fill="#fff" text-anchor="middle" >14</text>
<text x="611.00" y="270.70" font-size="7.4" stroke="#000" stroke-width="0.05" font-weight="bold" text-anchor="middle" textLength="84.30" lengthAdjust="spacingAndGlyphs" transform="rotate(-90 611.00 270.70)" >N. of vesicles in the RRP</text>
</svg>
</body></html>
